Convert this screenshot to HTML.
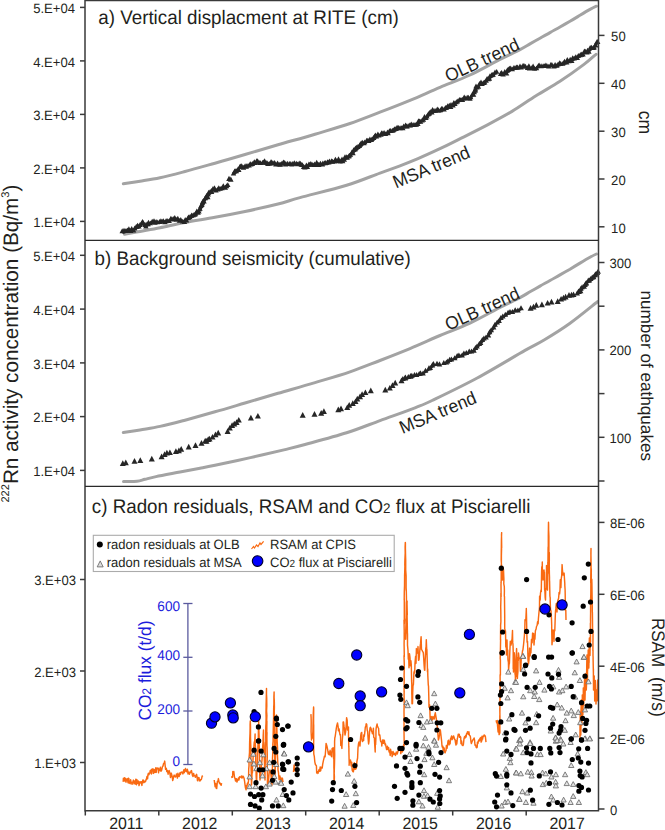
<!DOCTYPE html>
<html><head><meta charset="utf-8"><style>
html,body{margin:0;padding:0;background:#fff;width:665px;height:830px;overflow:hidden;}
svg text{font-family:"Liberation Sans", sans-serif;text-rendering:geometricPrecision;}
</style></head><body>
<svg width="665" height="830" viewBox="0 0 665 830" style="position:absolute;left:0;top:0">
<rect width="665" height="830" fill="#ffffff"/>
<path d="M123.3,183.8 C126.1,183.4 133.9,182.2 140.0,181.2 C146.1,180.2 152.5,179.3 160.0,177.7 C167.5,176.1 175.8,173.9 185.0,171.5 C194.2,169.1 205.0,166.0 215.0,163.2 C225.0,160.4 234.5,157.6 245.0,154.5 C255.5,151.4 266.3,148.2 278.0,144.8 C289.7,141.4 303.0,137.8 315.0,134.2 C327.0,130.6 339.2,127.2 350.0,123.5 C360.8,119.8 370.0,116.0 380.0,112.2 C390.0,108.4 400.0,104.5 410.0,100.4 C420.0,96.3 430.0,91.6 440.0,87.4 C450.0,83.2 460.0,79.7 470.0,75.0 C480.0,70.3 491.7,63.6 500.0,59.4 C508.3,55.2 515.0,52.2 520.0,49.6 C525.0,47.0 526.7,45.8 530.0,43.9 C533.3,42.0 536.7,40.1 540.0,38.2 C543.3,36.3 546.7,34.5 550.0,32.6 C553.3,30.7 556.7,28.9 560.0,27.0 C563.3,25.1 566.7,23.2 570.0,21.3 C573.3,19.4 576.7,17.3 580.0,15.3 C583.3,13.3 587.3,10.9 590.0,9.4 C592.7,7.9 595.3,6.7 596.4,6.2" fill="none" stroke="#a3a3a3" stroke-width="3" stroke-linecap="round"/>
<path d="M123.3,432.6 C126.1,432.2 133.9,431.0 140.0,430.0 C146.1,428.9 152.5,428.1 160.0,426.4 C167.5,424.8 175.8,422.6 185.0,420.2 C194.2,417.7 205.0,414.7 215.0,411.8 C225.0,409.0 234.5,406.1 245.0,403.0 C255.5,400.0 266.3,396.7 278.0,393.3 C289.7,389.9 303.0,386.2 315.0,382.6 C327.0,379.0 339.2,375.5 350.0,371.8 C360.8,368.1 370.0,364.3 380.0,360.5 C390.0,356.6 400.0,352.7 410.0,348.6 C420.0,344.4 430.0,339.8 440.0,335.5 C450.0,331.3 460.0,327.8 470.0,323.1 C480.0,318.4 491.7,311.7 500.0,307.4 C508.3,303.2 515.0,300.2 520.0,297.6 C525.0,295.0 526.7,293.7 530.0,291.8 C533.3,289.9 536.7,288.0 540.0,286.1 C543.3,284.2 546.7,282.4 550.0,280.5 C553.3,278.6 556.7,276.8 560.0,274.9 C563.3,273.0 566.7,271.1 570.0,269.2 C573.3,267.2 576.7,265.1 580.0,263.1 C583.3,261.1 587.3,258.7 590.0,257.2 C592.7,255.7 595.3,254.5 596.4,254.0" fill="none" stroke="#a3a3a3" stroke-width="3" stroke-linecap="round"/>
<path d="M124.5,234.2 C127.1,233.7 134.1,232.5 140.0,231.4 C145.9,230.3 152.5,229.2 160.0,227.7 C167.5,226.2 175.8,224.2 185.0,222.5 C194.2,220.8 205.0,219.1 215.0,217.3 C225.0,215.5 234.5,213.7 245.0,211.5 C255.5,209.3 268.8,206.3 278.0,204.0 C287.2,201.7 288.6,200.7 300.0,197.6 C311.4,194.5 333.3,189.4 346.6,185.3 C359.9,181.2 371.1,176.3 380.0,173.1 C388.9,169.8 393.7,168.2 400.0,165.8 C406.3,163.4 411.3,161.4 418.0,158.6 C424.7,155.8 432.3,152.3 440.0,148.7 C447.7,145.1 456.0,140.8 464.0,136.8 C472.0,132.8 480.0,128.8 488.0,124.6 C496.0,120.4 504.0,116.2 512.0,111.4 C520.0,106.6 528.0,100.7 536.0,95.7 C544.0,90.7 552.0,86.5 560.0,81.3 C568.0,76.1 578.0,68.9 584.0,64.4 C590.0,59.9 594.0,56.0 596.0,54.3" fill="none" stroke="#a3a3a3" stroke-width="3" stroke-linecap="round"/>
<path d="M123.5,481.5 C125.8,481.5 133.4,481.7 137.0,481.3 C140.6,480.9 141.8,480.1 145.0,479.3 C148.2,478.5 150.2,477.8 156.0,476.6 C161.8,475.4 172.7,473.4 180.0,472.0 C187.3,470.6 194.2,469.4 200.0,468.3 C205.8,467.2 206.6,467.1 215.0,465.3 C223.4,463.5 238.7,460.2 250.4,457.6 C262.1,455.0 275.9,451.8 285.0,449.6 C294.1,447.4 294.7,447.3 305.0,444.5 C315.3,441.7 334.1,436.8 346.6,432.8 C359.1,428.8 368.6,424.8 380.0,420.6 C391.4,416.4 406.3,411.2 415.0,407.8 C423.7,404.4 421.7,405.5 432.1,400.5 C442.5,395.5 461.7,386.4 477.2,378.0 C492.7,369.6 513.9,356.7 525.0,350.4 C536.1,344.1 536.6,344.5 544.1,340.0 C551.6,335.5 560.8,329.9 569.7,323.5 C578.6,317.1 592.9,305.3 597.5,301.7" fill="none" stroke="#a3a3a3" stroke-width="3" stroke-linecap="round"/>
<path d="M122.4,232.9 L122.9,232.8 L123.4,232.6 L123.9,232.5 L124.4,232.4 L124.9,232.2 L125.5,232.1 L126.0,231.9 L126.5,231.8 L127.0,231.7 L127.5,231.5 L128.0,231.4 L128.5,231.3 L129.0,231.2 L129.5,231.0 L130.0,230.9 L130.5,230.8 L131.0,230.7 L131.5,230.6 L132.0,230.5 L132.5,230.3 L133.0,230.2 L133.5,230.1 L133.9,229.8 L134.4,229.6 L134.8,229.3 L135.3,229.0 L135.8,228.8 L136.2,228.5 L136.7,228.2 L137.1,227.9 L137.6,227.7 L138.0,227.4 L138.4,227.1 L138.8,226.7 L139.2,226.4 L139.6,226.1 L140.0,225.7 L140.5,225.4 L140.9,225.0 L141.3,224.7 L141.7,224.4 L142.1,224.0 L142.5,223.7 L142.9,224.1 L143.3,224.4 L143.7,224.8 L144.1,225.1 L144.5,225.5 L144.9,225.8 L145.3,226.2 L145.7,226.5 L146.1,226.9 L146.4,226.5 L146.7,226.1 L147.0,225.6 L147.3,225.2 L147.6,224.8 L147.9,224.4 L148.2,223.9 L148.5,223.5 L148.8,223.1 L149.3,223.1 L149.9,223.0 L150.4,223.0 L150.9,223.0 L151.4,223.0 L151.9,222.9 L152.5,222.9 L153.0,222.9 L153.5,222.9 L154.1,222.8 L154.6,222.8 L155.1,222.8 L155.6,222.8 L156.2,222.7 L156.7,222.7 L157.3,222.6 L157.8,222.6 L158.3,222.6 L158.9,222.5 L159.4,222.5 L160.0,222.4 L160.5,222.4 L161.0,222.3 L161.5,222.2 L162.0,222.2 L162.5,222.1 L163.0,222.0 L163.5,221.9 L164.0,221.8 L164.5,221.7 L165.0,221.7 L165.5,221.6 L166.0,221.5 L166.5,221.3 L167.0,221.1 L167.5,221.0 L168.0,220.8 L168.6,220.6 L169.1,220.4 L169.6,220.3 L170.1,220.1 L170.6,219.9 L171.1,219.9 L171.6,219.9 L172.1,219.9 L172.6,219.9 L173.1,219.9 L173.6,219.8 L174.2,219.8 L174.7,219.8 L175.2,219.8 L175.7,219.8 L176.2,219.8 L176.7,219.8 L177.2,219.9 L177.7,220.0 L178.2,220.2 L178.7,220.3 L179.2,220.4 L179.7,220.5 L180.2,220.6 L180.7,220.8 L181.2,220.9 L181.7,221.0 L182.2,221.1 L182.7,221.2 L183.2,221.4 L183.7,221.5 L184.2,221.6 L184.7,221.3 L185.1,221.0 L185.6,220.8 L186.0,220.5 L186.5,220.2 L187.0,219.9 L187.4,219.7 L187.9,219.4 L188.4,219.1 L188.8,218.8 L189.3,218.6 L189.7,218.3 L190.2,218.0 L190.6,217.7 L191.0,217.4 L191.4,217.1 L191.9,216.8 L192.3,216.5 L192.7,216.2 L193.1,215.9 L193.5,215.6 L193.9,215.3 L194.4,215.1 L194.8,214.8 L195.2,214.5 L195.6,214.2 L196.0,213.9 L196.4,213.6 L196.9,213.3 L197.3,213.0 L197.7,212.7 L198.0,212.3 L198.3,211.9 L198.6,211.5 L198.9,211.1 L199.2,210.7 L199.5,210.3 L199.8,209.9 L200.1,209.5 L200.4,209.1 L200.7,208.7 L201.0,208.3 L201.3,207.9 L201.6,207.5 L201.9,207.1 L202.2,206.7 L202.4,206.2 L202.5,205.7 L202.7,205.2 L202.9,204.7 L203.0,204.2 L203.2,203.7 L203.4,203.2 L203.5,202.7 L203.7,202.2 L204.0,201.8 L204.3,201.3 L204.5,200.9 L204.8,200.5 L205.1,200.1 L205.4,199.7 L205.7,199.2 L205.9,198.8 L206.2,198.4 L206.5,197.9 L206.8,197.5 L207.1,197.1 L207.4,196.7 L207.6,196.2 L207.9,195.8 L208.2,195.4 L208.6,195.0 L208.9,194.7 L209.3,194.3 L209.7,193.9 L210.0,193.6 L210.4,193.2 L210.8,192.8 L211.2,192.4 L211.5,192.1 L211.9,191.7 L212.3,191.3 L212.6,191.0 L213.0,190.6 L213.5,190.5 L214.0,190.4 L214.5,190.3 L215.0,190.2 L215.5,190.1 L216.0,189.9 L216.5,189.8 L217.0,189.7 L217.5,189.6 L218.0,189.5 L218.5,189.4 L219.0,189.3 L219.5,189.1 L220.0,188.9 L220.5,188.7 L221.0,188.6 L221.5,188.4 L222.0,188.2 L222.5,188.0 L223.0,187.8 L223.5,187.7 L224.0,187.5 L224.5,187.3 L225.0,187.1 L225.4,186.8 L225.8,186.4 L226.2,186.1 L226.7,185.8 L227.1,185.4 L227.5,185.1" fill="none" stroke="#262626" stroke-width="2.2" stroke-linejoin="round"/>
<polygon points="122.2,228.3 119.5,233.2 124.9,233.2" fill="#262626"/>
<polygon points="124.0,227.7 121.3,232.6 126.7,232.6" fill="#262626"/>
<polygon points="125.2,228.2 122.5,233.0 127.9,233.0" fill="#262626"/>
<polygon points="126.2,228.2 123.5,233.0 128.9,233.0" fill="#262626"/>
<polygon points="127.5,227.6 124.8,232.5 130.2,232.5" fill="#262626"/>
<polygon points="128.9,226.3 126.2,231.2 131.6,231.2" fill="#262626"/>
<polygon points="130.7,228.1 128.0,232.9 133.4,232.9" fill="#262626"/>
<polygon points="131.7,226.0 129.0,230.9 134.4,230.9" fill="#262626"/>
<polygon points="133.6,227.7 130.9,232.6 136.3,232.6" fill="#262626"/>
<polygon points="134.7,225.5 132.0,230.4 137.4,230.4" fill="#262626"/>
<polygon points="136.2,223.9 133.5,228.7 138.9,228.7" fill="#262626"/>
<polygon points="137.2,223.9 134.5,228.7 139.9,228.7" fill="#262626"/>
<polygon points="137.6,222.7 134.9,227.6 140.3,227.6" fill="#262626"/>
<polygon points="138.9,223.7 136.2,228.6 141.6,228.6" fill="#262626"/>
<polygon points="139.9,222.2 137.2,227.0 142.6,227.0" fill="#262626"/>
<polygon points="141.5,220.7 138.8,225.5 144.2,225.5" fill="#262626"/>
<polygon points="142.5,218.9 139.8,223.7 145.2,223.7" fill="#262626"/>
<polygon points="143.3,220.3 140.6,225.2 146.0,225.2" fill="#262626"/>
<polygon points="145.1,222.0 142.4,226.9 147.8,226.9" fill="#262626"/>
<polygon points="145.9,223.5 143.2,228.4 148.6,228.4" fill="#262626"/>
<polygon points="147.0,221.5 144.3,226.3 149.7,226.3" fill="#262626"/>
<polygon points="148.2,221.3 145.5,226.2 150.9,226.2" fill="#262626"/>
<polygon points="148.5,219.7 145.8,224.6 151.2,224.6" fill="#262626"/>
<polygon points="150.4,220.5 147.7,225.3 153.1,225.3" fill="#262626"/>
<polygon points="152.2,218.7 149.5,223.6 154.9,223.6" fill="#262626"/>
<polygon points="154.0,218.2 151.3,223.1 156.7,223.1" fill="#262626"/>
<polygon points="155.0,219.9 152.3,224.8 157.7,224.8" fill="#262626"/>
<polygon points="156.1,219.1 153.4,223.9 158.8,223.9" fill="#262626"/>
<polygon points="157.3,219.5 154.6,224.3 160.0,224.3" fill="#262626"/>
<polygon points="159.4,219.1 156.7,224.0 162.1,224.0" fill="#262626"/>
<polygon points="160.9,218.3 158.2,223.1 163.6,223.1" fill="#262626"/>
<polygon points="162.1,218.8 159.4,223.7 164.8,223.7" fill="#262626"/>
<polygon points="163.3,218.2 160.6,223.1 166.0,223.1" fill="#262626"/>
<polygon points="165.0,219.4 162.3,224.2 167.7,224.2" fill="#262626"/>
<polygon points="166.0,218.3 163.3,223.2 168.7,223.2" fill="#262626"/>
<polygon points="167.1,217.9 164.4,222.8 169.8,222.8" fill="#262626"/>
<polygon points="169.2,218.2 166.5,223.1 171.9,223.1" fill="#262626"/>
<polygon points="170.9,215.7 168.2,220.5 173.6,220.5" fill="#262626"/>
<polygon points="172.0,216.7 169.3,221.6 174.7,221.6" fill="#262626"/>
<polygon points="173.2,216.1 170.5,221.0 175.9,221.0" fill="#262626"/>
<polygon points="174.8,215.1 172.1,220.0 177.5,220.0" fill="#262626"/>
<polygon points="176.3,216.9 173.6,221.8 179.0,221.8" fill="#262626"/>
<polygon points="177.8,215.8 175.1,220.7 180.5,220.7" fill="#262626"/>
<polygon points="179.6,217.9 176.9,222.8 182.3,222.8" fill="#262626"/>
<polygon points="180.8,217.1 178.1,222.0 183.5,222.0" fill="#262626"/>
<polygon points="182.7,218.7 180.0,223.6 185.4,223.6" fill="#262626"/>
<polygon points="184.5,219.0 181.8,223.9 187.2,223.9" fill="#262626"/>
<polygon points="185.2,217.0 182.5,221.9 187.9,221.9" fill="#262626"/>
<polygon points="186.5,217.6 183.8,222.5 189.2,222.5" fill="#262626"/>
<polygon points="188.3,214.8 185.6,219.7 191.0,219.7" fill="#262626"/>
<polygon points="188.7,214.4 186.0,219.2 191.4,219.2" fill="#262626"/>
<polygon points="189.9,214.3 187.2,219.2 192.6,219.2" fill="#262626"/>
<polygon points="191.4,213.0 188.7,217.8 194.1,217.8" fill="#262626"/>
<polygon points="191.8,212.6 189.1,217.5 194.5,217.5" fill="#262626"/>
<polygon points="193.3,212.3 190.6,217.2 196.0,217.2" fill="#262626"/>
<polygon points="194.9,211.9 192.2,216.8 197.6,216.8" fill="#262626"/>
<polygon points="195.6,210.9 192.9,215.8 198.3,215.8" fill="#262626"/>
<polygon points="196.8,208.6 194.1,213.5 199.5,213.5" fill="#262626"/>
<polygon points="198.1,209.9 195.4,214.7 200.8,214.7" fill="#262626"/>
<polygon points="199.0,208.7 196.3,213.6 201.7,213.6" fill="#262626"/>
<polygon points="199.4,206.4 196.7,211.3 202.1,211.3" fill="#262626"/>
<polygon points="200.0,205.9 197.3,210.7 202.7,210.7" fill="#262626"/>
<polygon points="200.9,203.1 198.2,207.9 203.6,207.9" fill="#262626"/>
<polygon points="201.9,202.1 199.2,207.0 204.6,207.0" fill="#262626"/>
<polygon points="202.5,200.3 199.8,205.2 205.2,205.2" fill="#262626"/>
<polygon points="202.7,199.1 200.0,204.0 205.4,204.0" fill="#262626"/>
<polygon points="203.3,198.2 200.6,203.1 206.0,203.1" fill="#262626"/>
<polygon points="204.0,198.5 201.3,203.4 206.7,203.4" fill="#262626"/>
<polygon points="205.3,195.3 202.6,200.2 208.0,200.2" fill="#262626"/>
<polygon points="205.7,194.8 203.0,199.6 208.4,199.6" fill="#262626"/>
<polygon points="206.6,193.0 203.9,197.9 209.3,197.9" fill="#262626"/>
<polygon points="207.8,194.3 205.1,199.2 210.5,199.2" fill="#262626"/>
<polygon points="208.2,191.7 205.5,196.6 210.9,196.6" fill="#262626"/>
<polygon points="208.7,189.7 206.0,194.6 211.4,194.6" fill="#262626"/>
<polygon points="210.0,189.2 207.3,194.1 212.7,194.1" fill="#262626"/>
<polygon points="211.4,188.0 208.7,192.8 214.1,192.8" fill="#262626"/>
<polygon points="211.6,189.2 208.9,194.1 214.3,194.1" fill="#262626"/>
<polygon points="213.0,186.0 210.3,190.9 215.7,190.9" fill="#262626"/>
<polygon points="214.5,185.3 211.8,190.2 217.2,190.2" fill="#262626"/>
<polygon points="216.0,187.7 213.3,192.5 218.7,192.5" fill="#262626"/>
<polygon points="217.9,186.6 215.2,191.4 220.6,191.4" fill="#262626"/>
<polygon points="218.8,185.3 216.1,190.2 221.5,190.2" fill="#262626"/>
<polygon points="220.2,185.9 217.5,190.8 222.9,190.8" fill="#262626"/>
<polygon points="222.0,185.4 219.3,190.2 224.7,190.2" fill="#262626"/>
<polygon points="223.3,183.3 220.6,188.1 226.0,188.1" fill="#262626"/>
<polygon points="225.3,184.8 222.6,189.7 228.0,189.7" fill="#262626"/>
<polygon points="226.6,183.3 223.9,188.2 229.3,188.2" fill="#262626"/>
<polygon points="227.8,182.2 225.1,187.0 230.5,187.0" fill="#262626"/>
<path d="M233.8,174.1 L234.3,173.8 L234.8,173.5 L235.1,173.1 L235.5,172.7 L235.8,172.3 L236.2,171.9 L236.5,171.5 L236.9,171.1 L237.2,170.6 L237.6,170.2 L237.9,169.8 L238.3,169.4 L238.6,169.0 L239.0,168.6 L239.3,168.2 L239.8,168.1 L240.3,168.0 L240.9,167.9 L241.4,167.7 L241.9,167.6 L242.4,167.5 L243.0,167.4 L243.5,167.3 L244.0,167.2 L244.5,167.0 L245.1,166.9 L245.6,166.8 L246.1,166.7 L246.6,166.5 L247.0,166.3 L247.5,166.1 L248.0,165.8 L248.5,165.6 L248.9,165.4 L249.4,165.2 L249.9,165.0 L250.4,164.8 L250.8,164.5 L251.3,164.3 L251.8,164.1 L252.3,163.9 L252.7,163.7 L253.2,163.5 L253.7,163.2 L254.2,163.0 L254.6,162.8 L255.1,162.6 L255.6,162.6 L256.1,162.7 L256.6,162.7 L257.2,162.7 L257.7,162.8 L258.2,162.8 L258.7,162.8 L259.2,162.9 L259.7,162.9 L260.2,162.9 L260.8,162.9 L261.3,163.0 L261.8,163.0 L262.3,163.0 L262.8,163.1 L263.3,163.1 L263.8,163.1 L264.3,163.2 L264.9,163.2 L265.4,163.2 L265.9,163.3 L266.4,163.3 L266.9,163.3 L267.4,163.4 L267.9,163.4 L268.5,163.5 L269.0,163.5 L269.5,163.5 L270.0,163.6 L270.5,163.6 L271.0,163.7 L271.5,163.7 L272.0,163.7 L272.6,163.8 L273.1,163.8 L273.6,163.9 L274.1,163.9 L274.6,164.0 L275.1,164.0 L275.6,164.0 L276.2,164.1 L276.7,164.1 L277.2,164.2 L277.7,164.2 L278.2,164.2 L278.7,164.2 L279.2,164.2 L279.8,164.3 L280.3,164.3 L280.8,164.3 L281.3,164.3 L281.8,164.3 L282.3,164.3 L282.8,164.3 L283.4,164.3 L283.9,164.4 L284.4,164.4 L284.9,164.4 L285.4,164.4 L285.9,164.4 L286.4,164.4 L286.9,164.4 L287.5,164.5 L288.0,164.5 L288.5,164.5 L289.0,164.5 L289.5,164.5 L290.0,164.5 L290.5,164.5 L291.0,164.5 L291.5,164.5 L292.1,164.4 L292.6,164.4 L293.1,164.4 L293.6,164.4 L294.1,164.4 L294.6,164.4 L295.1,164.4 L295.6,164.4 L296.1,164.4 L296.6,164.4 L297.1,164.4 L297.7,164.3 L298.2,164.3 L298.7,164.3 L299.2,164.3 L299.7,164.3 L300.2,164.3 L300.6,164.6 L301.1,164.9 L301.6,165.2 L302.0,165.5 L302.4,165.7 L302.9,166.0 L303.3,166.3 L303.8,166.6 L304.2,166.9 L304.7,167.2 L305.2,167.0 L305.7,166.9 L306.2,166.8 L306.7,166.6 L307.2,166.4 L307.7,166.3 L308.2,166.2 L308.7,166.0 L309.2,165.8 L309.8,165.7 L310.3,165.5 L310.8,165.4 L311.3,165.2 L311.8,165.1 L312.3,164.9 L312.8,164.8 L313.3,164.7 L313.8,164.5 L314.3,164.5 L314.8,164.5 L315.3,164.5 L315.8,164.5 L316.3,164.4 L316.8,164.4 L317.3,164.4 L317.8,164.4 L318.3,164.4 L318.8,164.4 L319.3,164.4 L319.8,164.4 L320.3,164.4 L320.8,164.3 L321.3,164.3 L321.8,164.3 L322.3,164.3 L322.8,164.3 L323.3,164.3 L323.8,164.3 L324.3,164.3 L324.8,164.3 L325.3,164.2 L325.8,164.2 L326.3,164.2 L326.8,164.2 L327.3,164.2 L327.8,163.9 L328.2,163.7 L328.7,163.4 L329.2,163.2 L329.6,162.9 L330.1,162.7 L330.6,162.4 L331.0,162.1 L331.5,161.9 L332.0,161.6 L332.4,161.4 L332.9,161.1 L333.4,161.1 L333.9,161.1 L334.4,161.1 L334.9,161.1 L335.4,161.0 L336.0,161.0 L336.5,161.0 L337.0,161.0 L337.5,161.0 L338.0,161.0 L338.5,161.0 L339.0,161.0 L339.5,161.0 L340.0,161.0 L340.6,161.0 L341.1,160.9 L341.6,160.9 L342.1,160.9 L342.6,160.9 L343.1,160.9 L343.5,160.6 L343.9,160.3 L344.3,159.9 L344.7,159.6 L345.1,159.3 L345.5,159.0 L345.9,158.6 L346.3,158.3 L346.7,158.0 L347.1,157.7 L347.5,157.3 L347.9,157.0 L348.3,156.7 L348.7,156.4 L349.1,156.0 L349.5,155.7 L349.9,155.4 L350.3,155.1 L350.7,154.7 L351.0,154.4 L351.4,154.1 L351.8,153.7 L352.2,153.4 L352.6,153.1 L352.9,152.8 L353.3,152.4 L353.7,152.1 L354.1,151.8 L354.5,151.4 L354.9,151.1 L355.2,150.8 L355.6,150.4 L356.0,150.1 L356.4,149.8 L356.8,149.4 L357.1,149.1 L357.5,148.8 L357.9,148.4 L358.3,148.1 L358.6,147.8 L359.0,147.4 L359.4,147.1 L359.8,146.7 L360.2,146.4 L360.5,146.1 L360.9,145.7 L361.3,145.4 L361.7,145.1 L362.2,144.9 L362.6,144.6 L363.0,144.3 L363.5,144.1 L363.9,143.8 L364.3,143.5 L364.8,143.3 L365.2,143.0 L365.6,142.8 L366.1,142.5 L366.5,142.2 L367.0,142.0 L367.4,141.7 L367.8,141.4 L368.3,141.2 L368.7,140.9 L369.1,140.6 L369.6,140.4 L370.0,140.1 L370.5,139.9 L370.9,139.6 L371.4,139.4 L371.9,139.2 L372.3,138.9 L372.8,138.7 L373.3,138.5 L373.7,138.2 L374.2,138.0 L374.6,137.8 L375.1,137.5 L375.6,137.3 L376.0,137.0 L376.5,136.8 L377.0,136.6 L377.4,136.3 L377.9,136.1 L378.4,135.9 L378.8,135.6 L379.3,135.4 L379.8,135.3 L380.3,135.1 L380.7,135.0 L381.2,134.8 L381.7,134.7 L382.2,134.5 L382.7,134.4 L383.1,134.2 L383.6,134.1 L384.1,134.0 L384.6,133.8 L385.1,133.7 L385.6,133.5 L386.0,133.4 L386.5,133.2 L387.0,133.1 L387.5,132.9 L388.0,132.8 L388.5,132.6 L389.0,132.5 L389.5,132.3 L390.0,132.2 L390.5,132.0 L391.0,131.8 L391.5,131.7 L392.0,131.5 L392.5,131.4 L393.0,131.2 L393.5,131.1 L394.0,130.9 L394.5,130.8 L395.0,130.6 L395.5,130.4 L395.9,130.3 L396.4,130.1 L396.9,129.9 L397.4,129.8 L397.8,129.6 L398.3,129.4 L398.8,129.3 L399.2,129.1 L399.7,128.9 L400.2,128.8 L400.7,128.6 L401.1,128.4 L401.6,128.3 L402.1,128.1 L402.6,127.9 L403.0,127.8 L403.5,127.6 L404.0,127.5 L404.4,127.3 L404.9,127.1 L405.4,127.0 L405.9,126.8 L406.3,126.6 L406.8,126.5 L407.3,126.3 L407.7,126.1 L408.2,126.0 L408.7,125.8 L409.2,125.6 L409.6,125.5 L410.1,125.3 L410.6,125.2 L411.1,125.1 L411.6,125.1 L412.1,125.0 L412.6,124.9 L413.1,124.8 L413.6,124.7 L414.2,124.7 L414.7,124.6 L415.2,124.5 L415.7,124.4 L416.2,124.3 L416.7,124.3 L417.2,124.2 L417.7,124.1 L418.1,123.8 L418.5,123.5 L418.9,123.2 L419.3,122.9 L419.7,122.6 L420.1,122.3 L420.5,122.0 L420.9,121.7 L421.3,121.4 L421.7,121.1 L422.1,120.8 L422.5,120.5 L422.9,120.2 L423.3,119.9 L423.7,119.6 L424.1,119.3 L424.5,119.0 L424.9,118.7 L425.3,118.4 L425.7,118.1 L426.1,117.8 L426.5,117.5 L426.9,117.2 L427.3,116.9 L427.7,116.6 L428.1,116.3 L428.4,115.9 L428.8,115.5 L429.1,115.1 L429.5,114.7 L429.8,114.3 L430.2,113.9 L430.5,113.4 L430.9,113.0 L431.2,112.6 L431.6,112.2 L431.9,111.8 L432.3,111.4 L432.6,111.0 L433.1,111.0 L433.6,111.1 L434.1,111.1 L434.6,111.2 L435.1,111.2 L435.6,111.2 L436.1,111.3 L436.7,111.3 L437.2,111.4 L437.7,111.4 L438.2,111.4 L438.7,111.5 L439.2,111.5 L439.7,111.6 L440.2,111.6 L440.7,111.4 L441.1,111.1 L441.6,110.9 L442.1,110.7 L442.5,110.5 L443.0,110.2 L443.5,110.0 L443.9,109.8 L444.4,109.6 L444.9,109.3 L445.4,109.1 L445.8,108.9 L446.3,108.7 L446.8,108.5 L447.2,108.2 L447.7,108.0 L448.1,107.7 L448.6,107.5 L449.0,107.2 L449.5,106.9 L449.9,106.6 L450.3,106.4 L450.8,106.1 L451.2,105.8 L451.7,105.6 L452.1,105.3 L452.6,105.0 L453.0,104.8 L453.4,104.5 L453.9,104.2 L454.3,103.9 L454.8,103.7 L455.2,103.4 L455.7,103.2 L456.1,102.9 L456.6,102.7 L457.1,102.4 L457.5,102.2 L458.0,102.0 L458.5,101.7 L458.9,101.5 L459.4,101.3 L459.9,101.0 L460.4,100.8 L460.8,100.5 L461.3,100.3 L461.8,100.1 L462.2,99.8 L462.7,99.6 L463.2,99.5 L463.7,99.5 L464.2,99.4 L464.7,99.3 L465.2,99.3 L465.7,99.2 L466.2,99.1 L466.7,99.1 L467.2,99.0 L467.7,98.9 L468.2,98.9 L468.7,98.8 L469.2,98.7 L469.7,98.7 L470.2,98.6 L470.5,98.2 L470.9,97.8 L471.2,97.4 L471.5,97.0 L471.9,96.5 L472.2,96.1 L472.5,95.7 L472.9,95.3 L473.2,94.9 L473.4,94.4 L473.6,94.0 L473.8,93.5 L474.1,93.0 L474.3,92.6 L474.5,92.1 L474.7,91.6 L474.9,91.2 L475.1,90.7 L475.3,90.3 L475.6,89.8 L475.8,89.3 L476.0,88.9 L476.2,88.4 L476.6,88.0 L477.0,87.7 L477.4,87.3 L477.8,87.0 L478.2,86.6 L478.6,86.2 L479.0,85.9 L479.4,85.5 L479.8,85.2 L480.2,84.8 L480.6,84.5 L481.0,84.1 L481.4,83.8 L481.9,83.6 L482.3,83.3 L482.8,83.1 L483.2,82.8 L483.7,82.6 L484.1,82.3 L484.6,82.1 L485.0,81.8 L485.4,81.6 L485.9,81.3 L486.3,81.1 L486.8,80.8 L487.2,80.6 L487.7,80.3 L488.1,80.1 L488.5,79.7 L488.9,79.4 L489.2,79.0 L489.6,78.6 L490.0,78.3 L490.4,77.9 L490.7,77.5 L491.1,77.2 L491.5,76.8 L491.9,76.5 L492.2,76.1 L492.6,75.7 L493.0,75.4 L493.4,75.0 L493.7,74.6 L494.1,74.3 L494.5,73.9 L495.0,73.7 L495.5,73.5 L496.0,73.3 L496.5,73.1" fill="none" stroke="#262626" stroke-width="2.2" stroke-linejoin="round"/>
<polygon points="233.5,170.5 230.8,175.4 236.2,175.4" fill="#262626"/>
<polygon points="234.7,168.6 232.0,173.4 237.4,173.4" fill="#262626"/>
<polygon points="235.2,168.2 232.5,173.1 237.9,173.1" fill="#262626"/>
<polygon points="236.4,168.3 233.7,173.2 239.1,173.2" fill="#262626"/>
<polygon points="238.0,166.6 235.3,171.4 240.7,171.4" fill="#262626"/>
<polygon points="238.8,167.0 236.1,171.9 241.5,171.9" fill="#262626"/>
<polygon points="239.8,164.2 237.1,169.1 242.5,169.1" fill="#262626"/>
<polygon points="240.4,163.5 237.7,168.4 243.1,168.4" fill="#262626"/>
<polygon points="241.7,163.2 239.0,168.0 244.4,168.0" fill="#262626"/>
<polygon points="243.5,164.8 240.8,169.7 246.2,169.7" fill="#262626"/>
<polygon points="245.1,163.3 242.4,168.2 247.8,168.2" fill="#262626"/>
<polygon points="246.3,163.9 243.6,168.8 249.0,168.8" fill="#262626"/>
<polygon points="247.0,163.0 244.3,167.8 249.7,167.8" fill="#262626"/>
<polygon points="249.1,162.7 246.4,167.6 251.8,167.6" fill="#262626"/>
<polygon points="250.2,161.3 247.5,166.1 252.9,166.1" fill="#262626"/>
<polygon points="250.9,161.6 248.2,166.4 253.6,166.4" fill="#262626"/>
<polygon points="252.4,161.0 249.7,165.9 255.1,165.9" fill="#262626"/>
<polygon points="254.3,159.3 251.6,164.1 257.0,164.1" fill="#262626"/>
<polygon points="255.0,160.2 252.3,165.1 257.7,165.1" fill="#262626"/>
<polygon points="256.7,158.2 254.0,163.0 259.4,163.0" fill="#262626"/>
<polygon points="257.6,158.2 254.9,163.0 260.3,163.0" fill="#262626"/>
<polygon points="259.7,160.1 257.0,165.0 262.4,165.0" fill="#262626"/>
<polygon points="260.4,160.3 257.7,165.1 263.1,165.1" fill="#262626"/>
<polygon points="262.6,159.9 259.9,164.7 265.3,164.7" fill="#262626"/>
<polygon points="263.4,159.6 260.7,164.5 266.1,164.5" fill="#262626"/>
<polygon points="264.6,158.2 261.9,163.1 267.3,163.1" fill="#262626"/>
<polygon points="266.9,160.1 264.2,165.0 269.6,165.0" fill="#262626"/>
<polygon points="267.8,161.0 265.1,165.9 270.5,165.9" fill="#262626"/>
<polygon points="269.2,161.0 266.5,165.8 271.9,165.8" fill="#262626"/>
<polygon points="271.0,159.2 268.3,164.1 273.7,164.1" fill="#262626"/>
<polygon points="271.8,159.6 269.1,164.4 274.5,164.4" fill="#262626"/>
<polygon points="273.2,160.5 270.5,165.4 275.9,165.4" fill="#262626"/>
<polygon points="274.6,160.1 271.9,165.0 277.3,165.0" fill="#262626"/>
<polygon points="275.9,161.6 273.2,166.5 278.6,166.5" fill="#262626"/>
<polygon points="277.6,160.5 274.9,165.3 280.3,165.3" fill="#262626"/>
<polygon points="279.2,161.8 276.5,166.6 281.9,166.6" fill="#262626"/>
<polygon points="280.4,161.8 277.7,166.7 283.1,166.7" fill="#262626"/>
<polygon points="281.9,160.8 279.2,165.6 284.6,165.6" fill="#262626"/>
<polygon points="283.4,159.4 280.7,164.2 286.1,164.2" fill="#262626"/>
<polygon points="284.7,159.9 282.0,164.7 287.4,164.7" fill="#262626"/>
<polygon points="285.7,161.6 283.0,166.5 288.4,166.5" fill="#262626"/>
<polygon points="287.3,160.8 284.6,165.6 290.0,165.6" fill="#262626"/>
<polygon points="289.2,161.0 286.5,165.9 291.9,165.9" fill="#262626"/>
<polygon points="290.2,160.9 287.5,165.8 292.9,165.8" fill="#262626"/>
<polygon points="291.9,161.6 289.2,166.5 294.6,166.5" fill="#262626"/>
<polygon points="292.8,161.0 290.1,165.8 295.5,165.8" fill="#262626"/>
<polygon points="294.3,160.2 291.6,165.0 297.0,165.0" fill="#262626"/>
<polygon points="296.3,160.8 293.6,165.6 299.0,165.6" fill="#262626"/>
<polygon points="297.5,161.5 294.8,166.3 300.2,166.3" fill="#262626"/>
<polygon points="299.2,160.6 296.5,165.4 301.9,165.4" fill="#262626"/>
<polygon points="300.3,160.7 297.6,165.6 303.0,165.6" fill="#262626"/>
<polygon points="301.3,162.0 298.6,166.8 304.0,166.8" fill="#262626"/>
<polygon points="302.4,162.2 299.7,167.1 305.1,167.1" fill="#262626"/>
<polygon points="303.6,164.1 300.9,169.0 306.3,169.0" fill="#262626"/>
<polygon points="304.9,164.6 302.2,169.5 307.6,169.5" fill="#262626"/>
<polygon points="306.4,162.5 303.7,167.4 309.1,167.4" fill="#262626"/>
<polygon points="307.4,164.1 304.7,168.9 310.1,168.9" fill="#262626"/>
<polygon points="308.9,161.4 306.2,166.3 311.6,166.3" fill="#262626"/>
<polygon points="309.5,161.9 306.8,166.7 312.2,166.7" fill="#262626"/>
<polygon points="310.8,160.9 308.1,165.8 313.5,165.8" fill="#262626"/>
<polygon points="312.1,161.7 309.4,166.6 314.8,166.6" fill="#262626"/>
<polygon points="314.1,162.0 311.4,166.9 316.8,166.9" fill="#262626"/>
<polygon points="314.8,161.5 312.1,166.3 317.5,166.3" fill="#262626"/>
<polygon points="316.7,159.8 314.0,164.7 319.4,164.7" fill="#262626"/>
<polygon points="318.2,162.1 315.5,167.0 320.9,167.0" fill="#262626"/>
<polygon points="318.9,162.0 316.2,166.9 321.6,166.9" fill="#262626"/>
<polygon points="320.4,160.7 317.7,165.6 323.1,165.6" fill="#262626"/>
<polygon points="322.4,161.6 319.7,166.5 325.1,166.5" fill="#262626"/>
<polygon points="322.9,160.5 320.2,165.3 325.6,165.3" fill="#262626"/>
<polygon points="324.6,160.2 321.9,165.1 327.3,165.1" fill="#262626"/>
<polygon points="325.6,160.1 322.9,165.0 328.3,165.0" fill="#262626"/>
<polygon points="327.5,159.2 324.8,164.1 330.2,164.1" fill="#262626"/>
<polygon points="328.8,159.6 326.1,164.5 331.5,164.5" fill="#262626"/>
<polygon points="329.6,158.6 326.9,163.4 332.3,163.4" fill="#262626"/>
<polygon points="331.6,158.3 328.9,163.2 334.3,163.2" fill="#262626"/>
<polygon points="332.5,158.8 329.8,163.7 335.2,163.7" fill="#262626"/>
<polygon points="334.6,158.8 331.9,163.6 337.3,163.6" fill="#262626"/>
<polygon points="335.4,156.8 332.7,161.6 338.1,161.6" fill="#262626"/>
<polygon points="336.8,158.2 334.1,163.0 339.5,163.0" fill="#262626"/>
<polygon points="338.5,156.3 335.8,161.2 341.2,161.2" fill="#262626"/>
<polygon points="340.1,158.5 337.4,163.4 342.8,163.4" fill="#262626"/>
<polygon points="342.0,156.6 339.3,161.5 344.7,161.5" fill="#262626"/>
<polygon points="342.7,158.5 340.0,163.3 345.4,163.3" fill="#262626"/>
<polygon points="344.3,156.9 341.6,161.8 347.0,161.8" fill="#262626"/>
<polygon points="345.0,154.2 342.3,159.1 347.7,159.1" fill="#262626"/>
<polygon points="346.7,154.3 344.0,159.2 349.4,159.2" fill="#262626"/>
<polygon points="347.2,154.8 344.5,159.7 349.9,159.7" fill="#262626"/>
<polygon points="348.9,153.5 346.2,158.4 351.6,158.4" fill="#262626"/>
<polygon points="349.5,152.8 346.8,157.6 352.2,157.6" fill="#262626"/>
<polygon points="350.5,151.9 347.8,156.8 353.2,156.8" fill="#262626"/>
<polygon points="351.9,149.6 349.2,154.4 354.6,154.4" fill="#262626"/>
<polygon points="353.0,150.3 350.3,155.2 355.7,155.2" fill="#262626"/>
<polygon points="353.7,147.2 351.0,152.1 356.4,152.1" fill="#262626"/>
<polygon points="355.0,146.6 352.3,151.5 357.7,151.5" fill="#262626"/>
<polygon points="355.6,145.5 352.9,150.4 358.3,150.4" fill="#262626"/>
<polygon points="356.6,144.7 353.9,149.6 359.3,149.6" fill="#262626"/>
<polygon points="357.9,144.1 355.2,148.9 360.6,148.9" fill="#262626"/>
<polygon points="359.4,143.1 356.7,147.9 362.1,147.9" fill="#262626"/>
<polygon points="360.2,141.8 357.5,146.7 362.9,146.7" fill="#262626"/>
<polygon points="361.1,140.4 358.4,145.3 363.8,145.3" fill="#262626"/>
<polygon points="362.3,139.7 359.6,144.5 365.0,144.5" fill="#262626"/>
<polygon points="364.0,140.4 361.3,145.3 366.7,145.3" fill="#262626"/>
<polygon points="364.7,139.4 362.0,144.3 367.4,144.3" fill="#262626"/>
<polygon points="366.7,137.7 364.0,142.5 369.4,142.5" fill="#262626"/>
<polygon points="367.8,137.8 365.1,142.7 370.5,142.7" fill="#262626"/>
<polygon points="368.8,138.2 366.1,143.0 371.5,143.0" fill="#262626"/>
<polygon points="369.9,136.5 367.2,141.4 372.6,141.4" fill="#262626"/>
<polygon points="371.4,137.3 368.7,142.1 374.1,142.1" fill="#262626"/>
<polygon points="372.2,136.2 369.5,141.1 374.9,141.1" fill="#262626"/>
<polygon points="373.7,135.1 371.0,140.0 376.4,140.0" fill="#262626"/>
<polygon points="374.6,133.7 371.9,138.6 377.3,138.6" fill="#262626"/>
<polygon points="375.4,132.5 372.7,137.4 378.1,137.4" fill="#262626"/>
<polygon points="376.5,133.6 373.8,138.5 379.2,138.5" fill="#262626"/>
<polygon points="377.9,131.4 375.2,136.3 380.6,136.3" fill="#262626"/>
<polygon points="378.9,132.7 376.2,137.6 381.6,137.6" fill="#262626"/>
<polygon points="381.0,131.9 378.3,136.7 383.7,136.7" fill="#262626"/>
<polygon points="381.6,130.3 378.9,135.2 384.3,135.2" fill="#262626"/>
<polygon points="382.9,130.5 380.2,135.4 385.6,135.4" fill="#262626"/>
<polygon points="384.1,130.1 381.4,135.0 386.8,135.0" fill="#262626"/>
<polygon points="385.5,131.2 382.8,136.0 388.2,136.0" fill="#262626"/>
<polygon points="387.5,129.6 384.8,134.5 390.2,134.5" fill="#262626"/>
<polygon points="388.1,130.4 385.4,135.2 390.8,135.2" fill="#262626"/>
<polygon points="389.5,128.3 386.8,133.1 392.2,133.1" fill="#262626"/>
<polygon points="390.5,127.9 387.8,132.8 393.2,132.8" fill="#262626"/>
<polygon points="392.3,127.8 389.6,132.7 395.0,132.7" fill="#262626"/>
<polygon points="393.4,127.4 390.7,132.3 396.1,132.3" fill="#262626"/>
<polygon points="394.5,126.3 391.8,131.2 397.2,131.2" fill="#262626"/>
<polygon points="395.8,126.3 393.1,131.1 398.5,131.1" fill="#262626"/>
<polygon points="397.1,124.8 394.4,129.6 399.8,129.6" fill="#262626"/>
<polygon points="398.6,124.9 395.9,129.8 401.3,129.8" fill="#262626"/>
<polygon points="400.1,125.3 397.4,130.2 402.8,130.2" fill="#262626"/>
<polygon points="401.5,125.2 398.8,130.1 404.2,130.1" fill="#262626"/>
<polygon points="402.8,125.4 400.1,130.3 405.5,130.3" fill="#262626"/>
<polygon points="403.7,123.4 401.0,128.3 406.4,128.3" fill="#262626"/>
<polygon points="405.6,122.5 402.9,127.3 408.3,127.3" fill="#262626"/>
<polygon points="406.5,123.4 403.8,128.3 409.2,128.3" fill="#262626"/>
<polygon points="407.1,123.5 404.4,128.4 409.8,128.4" fill="#262626"/>
<polygon points="409.2,122.5 406.5,127.3 411.9,127.3" fill="#262626"/>
<polygon points="410.3,122.6 407.6,127.4 413.0,127.4" fill="#262626"/>
<polygon points="411.3,121.5 408.6,126.4 414.0,126.4" fill="#262626"/>
<polygon points="413.1,122.1 410.4,127.0 415.8,127.0" fill="#262626"/>
<polygon points="415.0,121.9 412.3,126.7 417.7,126.7" fill="#262626"/>
<polygon points="416.3,121.8 413.6,126.7 419.0,126.7" fill="#262626"/>
<polygon points="417.9,121.0 415.2,125.9 420.6,125.9" fill="#262626"/>
<polygon points="418.5,118.3 415.8,123.2 421.2,123.2" fill="#262626"/>
<polygon points="419.5,118.4 416.8,123.3 422.2,123.3" fill="#262626"/>
<polygon points="420.6,119.0 417.9,123.8 423.3,123.8" fill="#262626"/>
<polygon points="422.2,117.5 419.5,122.4 424.9,122.4" fill="#262626"/>
<polygon points="423.4,116.8 420.7,121.7 426.1,121.7" fill="#262626"/>
<polygon points="424.5,114.0 421.8,118.9 427.2,118.9" fill="#262626"/>
<polygon points="426.0,115.2 423.3,120.0 428.7,120.0" fill="#262626"/>
<polygon points="426.9,113.7 424.2,118.5 429.6,118.5" fill="#262626"/>
<polygon points="428.3,111.5 425.6,116.3 431.0,116.3" fill="#262626"/>
<polygon points="429.2,110.9 426.5,115.8 431.9,115.8" fill="#262626"/>
<polygon points="429.5,109.9 426.8,114.8 432.2,114.8" fill="#262626"/>
<polygon points="431.0,108.7 428.3,113.5 433.7,113.5" fill="#262626"/>
<polygon points="431.9,109.8 429.2,114.6 434.6,114.6" fill="#262626"/>
<polygon points="432.6,107.1 429.9,111.9 435.3,111.9" fill="#262626"/>
<polygon points="434.1,108.0 431.4,112.9 436.8,112.9" fill="#262626"/>
<polygon points="435.9,108.0 433.2,112.8 438.6,112.8" fill="#262626"/>
<polygon points="437.3,106.6 434.6,111.4 440.0,111.4" fill="#262626"/>
<polygon points="438.3,107.2 435.6,112.0 441.0,112.0" fill="#262626"/>
<polygon points="440.4,107.4 437.7,112.3 443.1,112.3" fill="#262626"/>
<polygon points="441.5,106.0 438.8,110.9 444.2,110.9" fill="#262626"/>
<polygon points="442.3,106.1 439.6,111.0 445.0,111.0" fill="#262626"/>
<polygon points="444.1,106.7 441.4,111.6 446.8,111.6" fill="#262626"/>
<polygon points="445.4,105.0 442.7,109.9 448.1,109.9" fill="#262626"/>
<polygon points="446.5,104.9 443.8,109.7 449.2,109.7" fill="#262626"/>
<polygon points="447.7,103.3 445.0,108.2 450.4,108.2" fill="#262626"/>
<polygon points="449.3,102.8 446.6,107.6 452.0,107.6" fill="#262626"/>
<polygon points="450.7,104.1 448.0,108.9 453.4,108.9" fill="#262626"/>
<polygon points="451.0,102.0 448.3,106.8 453.7,106.8" fill="#262626"/>
<polygon points="453.0,102.6 450.3,107.5 455.7,107.5" fill="#262626"/>
<polygon points="453.9,99.9 451.2,104.8 456.6,104.8" fill="#262626"/>
<polygon points="454.9,101.0 452.2,105.9 457.6,105.9" fill="#262626"/>
<polygon points="456.2,99.4 453.5,104.2 458.9,104.2" fill="#262626"/>
<polygon points="457.3,98.6 454.6,103.4 460.0,103.4" fill="#262626"/>
<polygon points="459.4,96.9 456.7,101.7 462.1,101.7" fill="#262626"/>
<polygon points="460.5,97.3 457.8,102.1 463.2,102.1" fill="#262626"/>
<polygon points="461.8,97.2 459.1,102.0 464.5,102.0" fill="#262626"/>
<polygon points="462.4,97.1 459.7,102.0 465.1,102.0" fill="#262626"/>
<polygon points="464.2,94.5 461.5,99.3 466.9,99.3" fill="#262626"/>
<polygon points="465.2,95.6 462.5,100.4 467.9,100.4" fill="#262626"/>
<polygon points="467.2,94.8 464.5,99.7 469.9,99.7" fill="#262626"/>
<polygon points="468.3,94.7 465.6,99.6 471.0,99.6" fill="#262626"/>
<polygon points="470.0,95.9 467.3,100.8 472.7,100.8" fill="#262626"/>
<polygon points="470.7,94.5 468.0,99.3 473.4,99.3" fill="#262626"/>
<polygon points="472.5,91.5 469.8,96.3 475.2,96.3" fill="#262626"/>
<polygon points="473.6,91.9 470.9,96.7 476.3,96.7" fill="#262626"/>
<polygon points="474.2,89.4 471.5,94.3 476.9,94.3" fill="#262626"/>
<polygon points="474.3,88.4 471.6,93.2 477.0,93.2" fill="#262626"/>
<polygon points="475.5,87.6 472.8,92.5 478.2,92.5" fill="#262626"/>
<polygon points="475.5,85.9 472.8,90.7 478.2,90.7" fill="#262626"/>
<polygon points="476.0,83.5 473.3,88.4 478.7,88.4" fill="#262626"/>
<polygon points="477.0,84.6 474.3,89.5 479.7,89.5" fill="#262626"/>
<polygon points="478.4,83.9 475.7,88.7 481.1,88.7" fill="#262626"/>
<polygon points="479.5,80.9 476.8,85.8 482.2,85.8" fill="#262626"/>
<polygon points="481.0,79.6 478.3,84.5 483.7,84.5" fill="#262626"/>
<polygon points="482.1,81.1 479.4,86.0 484.8,86.0" fill="#262626"/>
<polygon points="483.8,80.0 481.1,84.9 486.5,84.9" fill="#262626"/>
<polygon points="484.7,79.6 482.0,84.5 487.4,84.5" fill="#262626"/>
<polygon points="486.2,78.0 483.5,82.8 488.9,82.8" fill="#262626"/>
<polygon points="487.1,75.9 484.4,80.8 489.8,80.8" fill="#262626"/>
<polygon points="488.3,76.3 485.6,81.2 491.0,81.2" fill="#262626"/>
<polygon points="489.4,75.9 486.7,80.7 492.1,80.7" fill="#262626"/>
<polygon points="490.0,73.2 487.3,78.0 492.7,78.0" fill="#262626"/>
<polygon points="491.7,72.3 489.0,77.2 494.4,77.2" fill="#262626"/>
<polygon points="492.3,71.9 489.6,76.8 495.0,76.8" fill="#262626"/>
<polygon points="493.2,72.0 490.5,76.8 495.9,76.8" fill="#262626"/>
<polygon points="495.0,69.6 492.3,74.5 497.7,74.5" fill="#262626"/>
<polygon points="496.7,68.9 494.0,73.8 499.4,73.8" fill="#262626"/>
<path d="M500.5,75.0 L501.0,74.8 L501.4,74.7 L501.9,74.5 L502.4,74.3 L502.9,74.2 L503.4,74.0 L503.8,73.8 L504.3,73.7 L504.8,73.5 L505.2,73.3 L505.7,73.2 L506.2,73.0 L506.6,72.7 L507.1,72.4 L507.5,72.1 L507.9,71.9 L508.3,71.6 L508.8,71.3 L509.2,71.0 L509.6,70.7 L510.1,70.4 L510.5,70.1 L510.9,69.9 L511.3,69.6 L511.8,69.3 L512.2,69.0 L512.7,69.0 L513.3,68.9 L513.8,68.9 L514.3,68.9 L514.8,68.8 L515.4,68.8 L515.9,68.7 L516.4,68.7 L516.9,68.7 L517.5,68.6 L518.0,68.6 L518.5,68.5 L519.0,68.4 L519.5,68.2 L520.1,68.1 L520.6,68.0 L521.1,67.9 L521.6,67.8 L522.1,67.7 L522.7,67.5 L523.2,67.4 L523.7,67.3 L524.2,67.2 L524.7,67.3 L525.2,67.4 L525.7,67.6 L526.3,67.7 L526.8,67.8 L527.3,67.9 L527.8,68.0 L528.3,68.2 L528.8,68.3 L529.3,68.4 L529.9,68.5 L530.4,68.7 L530.9,68.8 L531.4,68.9 L531.9,68.8 L532.5,68.7 L533.0,68.6 L533.5,68.5 L534.1,68.5 L534.6,68.4 L535.1,68.3 L535.7,68.2 L536.2,68.1 L536.7,67.9 L537.2,67.8 L537.7,67.6 L538.2,67.4 L538.7,67.2 L539.1,67.1 L539.6,66.9 L540.1,66.7 L540.6,66.6 L541.1,66.4 L541.6,66.4 L542.2,66.3 L542.7,66.3 L543.2,66.2 L543.8,66.2 L544.3,66.1 L544.8,66.1 L545.4,66.0 L545.9,66.0 L546.4,66.0 L547.0,66.0 L547.5,66.1 L548.0,66.1 L548.6,66.1 L549.1,66.1 L549.6,66.2 L550.2,66.2 L550.7,66.2 L551.2,66.3 L551.8,66.4 L552.3,66.4 L552.8,66.5 L553.4,66.6 L553.9,66.7 L554.4,66.7 L555.0,66.8 L555.5,66.9 L556.0,66.7 L556.5,66.5 L557.0,66.3 L557.5,66.1 L558.0,65.9 L558.5,65.6 L559.0,65.4 L559.5,65.2 L560.0,65.0 L560.5,64.8 L561.0,64.6 L561.5,64.4 L562.0,64.2 L562.5,64.0 L563.0,63.8 L563.5,63.6 L564.0,63.4 L564.5,63.3 L565.0,63.1 L565.5,62.9 L566.0,62.7 L566.5,62.5 L567.0,62.3 L567.5,62.1 L568.0,61.9 L568.5,61.7 L569.0,61.6 L569.5,61.4 L570.0,61.2 L570.5,61.0 L571.0,60.8 L571.5,60.6 L572.0,60.5 L572.5,60.3 L573.0,60.1 L573.5,59.9 L573.9,59.6 L574.4,59.4 L574.9,59.1 L575.4,58.9 L575.8,58.6 L576.3,58.4 L576.8,58.1 L577.2,57.9 L577.7,57.6 L578.2,57.4 L578.7,57.1 L579.1,56.9 L579.6,56.6 L580.0,56.3 L580.5,56.0 L580.9,55.6 L581.3,55.3 L581.8,55.0 L582.2,54.7 L582.7,54.4 L583.1,54.1 L583.5,53.7 L584.0,53.4 L584.4,53.1 L584.9,52.9 L585.4,52.7 L585.8,52.5 L586.3,52.3 L586.8,52.1 L587.3,51.9 L587.8,51.7 L588.2,51.5 L588.7,51.3 L589.2,51.1 L589.6,50.7 L590.0,50.4 L590.4,50.0 L590.8,49.7 L591.2,49.3 L591.6,49.0 L592.0,48.6 L592.4,48.2 L592.9,47.9 L593.3,47.5 L593.7,47.2 L594.1,46.8 L594.6,46.5 L595.0,46.1 L595.4,45.7 L595.7,45.2 L596.1,44.8 L596.4,44.4 L596.8,44.0 L597.1,43.5 L597.5,43.1" fill="none" stroke="#262626" stroke-width="2.2" stroke-linejoin="round"/>
<polygon points="500.6,71.1 497.9,76.0 503.3,76.0" fill="#262626"/>
<polygon points="501.6,69.9 498.9,74.8 504.3,74.8" fill="#262626"/>
<polygon points="503.1,71.5 500.4,76.4 505.8,76.4" fill="#262626"/>
<polygon points="504.8,69.1 502.1,74.0 507.5,74.0" fill="#262626"/>
<polygon points="506.6,70.8 503.9,75.6 509.3,75.6" fill="#262626"/>
<polygon points="507.3,67.6 504.6,72.4 510.0,72.4" fill="#262626"/>
<polygon points="508.3,66.6 505.6,71.5 511.0,71.5" fill="#262626"/>
<polygon points="509.6,65.8 506.9,70.7 512.3,70.7" fill="#262626"/>
<polygon points="510.7,65.5 508.0,70.4 513.4,70.4" fill="#262626"/>
<polygon points="512.3,66.5 509.6,71.3 515.0,71.3" fill="#262626"/>
<polygon points="513.9,65.0 511.2,69.9 516.6,69.9" fill="#262626"/>
<polygon points="515.0,65.3 512.3,70.1 517.7,70.1" fill="#262626"/>
<polygon points="516.4,64.6 513.7,69.5 519.1,69.5" fill="#262626"/>
<polygon points="517.6,64.4 514.9,69.2 520.3,69.2" fill="#262626"/>
<polygon points="520.0,63.6 517.3,68.4 522.7,68.4" fill="#262626"/>
<polygon points="521.1,64.6 518.4,69.5 523.8,69.5" fill="#262626"/>
<polygon points="523.0,63.1 520.3,68.0 525.7,68.0" fill="#262626"/>
<polygon points="524.0,62.9 521.3,67.7 526.7,67.7" fill="#262626"/>
<polygon points="525.5,63.8 522.8,68.6 528.2,68.6" fill="#262626"/>
<polygon points="527.5,65.2 524.8,70.1 530.2,70.1" fill="#262626"/>
<polygon points="528.9,63.3 526.2,68.1 531.6,68.1" fill="#262626"/>
<polygon points="529.5,65.5 526.8,70.4 532.2,70.4" fill="#262626"/>
<polygon points="531.8,65.2 529.1,70.1 534.5,70.1" fill="#262626"/>
<polygon points="533.1,63.6 530.4,68.5 535.8,68.5" fill="#262626"/>
<polygon points="534.5,65.9 531.8,70.8 537.2,70.8" fill="#262626"/>
<polygon points="536.5,65.5 533.8,70.3 539.2,70.3" fill="#262626"/>
<polygon points="538.3,63.2 535.6,68.1 541.0,68.1" fill="#262626"/>
<polygon points="539.1,62.4 536.4,67.2 541.8,67.2" fill="#262626"/>
<polygon points="541.1,63.3 538.4,68.2 543.8,68.2" fill="#262626"/>
<polygon points="543.1,63.3 540.4,68.1 545.8,68.1" fill="#262626"/>
<polygon points="544.4,63.3 541.7,68.1 547.1,68.1" fill="#262626"/>
<polygon points="545.9,62.5 543.2,67.4 548.6,67.4" fill="#262626"/>
<polygon points="547.0,63.2 544.3,68.1 549.7,68.1" fill="#262626"/>
<polygon points="548.8,63.7 546.1,68.6 551.5,68.6" fill="#262626"/>
<polygon points="550.8,62.0 548.1,66.9 553.5,66.9" fill="#262626"/>
<polygon points="551.9,62.1 549.2,67.0 554.6,67.0" fill="#262626"/>
<polygon points="554.0,63.6 551.3,68.5 556.7,68.5" fill="#262626"/>
<polygon points="555.1,62.1 552.4,66.9 557.8,66.9" fill="#262626"/>
<polygon points="556.9,62.9 554.2,67.8 559.6,67.8" fill="#262626"/>
<polygon points="558.1,61.4 555.4,66.2 560.8,66.2" fill="#262626"/>
<polygon points="559.7,60.2 557.0,65.1 562.4,65.1" fill="#262626"/>
<polygon points="560.8,60.9 558.1,65.7 563.5,65.7" fill="#262626"/>
<polygon points="562.8,60.9 560.1,65.8 565.5,65.8" fill="#262626"/>
<polygon points="564.0,59.9 561.3,64.8 566.7,64.8" fill="#262626"/>
<polygon points="564.6,58.8 561.9,63.6 567.3,63.6" fill="#262626"/>
<polygon points="566.7,59.6 564.0,64.4 569.4,64.4" fill="#262626"/>
<polygon points="567.3,57.1 564.6,62.0 570.0,62.0" fill="#262626"/>
<polygon points="568.9,58.5 566.2,63.3 571.6,63.3" fill="#262626"/>
<polygon points="570.2,56.8 567.5,61.7 572.9,61.7" fill="#262626"/>
<polygon points="571.8,58.2 569.1,63.0 574.5,63.0" fill="#262626"/>
<polygon points="572.7,55.2 570.0,60.0 575.4,60.0" fill="#262626"/>
<polygon points="574.2,55.6 571.5,60.4 576.9,60.4" fill="#262626"/>
<polygon points="575.8,54.2 573.1,59.1 578.5,59.1" fill="#262626"/>
<polygon points="577.3,55.1 574.6,59.9 580.0,59.9" fill="#262626"/>
<polygon points="578.3,52.9 575.6,57.7 581.0,57.7" fill="#262626"/>
<polygon points="580.1,52.5 577.4,57.3 582.8,57.3" fill="#262626"/>
<polygon points="581.1,51.4 578.4,56.2 583.8,56.2" fill="#262626"/>
<polygon points="581.7,52.0 579.0,56.8 584.4,56.8" fill="#262626"/>
<polygon points="583.0,51.6 580.3,56.5 585.7,56.5" fill="#262626"/>
<polygon points="584.4,48.6 581.7,53.5 587.1,53.5" fill="#262626"/>
<polygon points="585.3,48.8 582.6,53.6 588.0,53.6" fill="#262626"/>
<polygon points="587.0,49.7 584.3,54.6 589.7,54.6" fill="#262626"/>
<polygon points="587.6,47.7 584.9,52.5 590.3,52.5" fill="#262626"/>
<polygon points="588.9,48.8 586.2,53.7 591.6,53.7" fill="#262626"/>
<polygon points="590.2,45.0 587.5,49.8 592.9,49.8" fill="#262626"/>
<polygon points="591.6,44.7 588.9,49.5 594.3,49.5" fill="#262626"/>
<polygon points="593.4,45.2 590.7,50.1 596.1,50.1" fill="#262626"/>
<polygon points="594.2,44.7 591.5,49.6 596.9,49.6" fill="#262626"/>
<polygon points="595.4,42.0 592.7,46.9 598.1,46.9" fill="#262626"/>
<polygon points="595.5,42.7 592.8,47.6 598.2,47.6" fill="#262626"/>
<polygon points="596.9,39.2 594.2,44.0 599.6,44.0" fill="#262626"/>
<polygon points="597.7,39.1 595.0,44.0 600.4,44.0" fill="#262626"/>
<polygon points="229.0,175.7 226.2,181.0 231.8,181.0" fill="#262626"/>
<polygon points="230.8,176.5 228.0,181.8 233.6,181.8" fill="#262626"/>
<polygon points="122.8,460.3 119.8,466.0 125.8,466.0" fill="#262626"/>
<polygon points="125.8,459.5 122.8,465.2 128.8,465.2" fill="#262626"/>
<polygon points="134.5,458.0 131.5,463.7 137.5,463.7" fill="#262626"/>
<polygon points="140.3,457.3 137.3,463.0 143.3,463.0" fill="#262626"/>
<polygon points="151.8,455.7 148.8,461.4 154.8,461.4" fill="#262626"/>
<polygon points="161.6,453.5 158.6,459.2 164.6,459.2" fill="#262626"/>
<polygon points="164.6,451.2 161.6,456.9 167.6,456.9" fill="#262626"/>
<polygon points="166.9,449.7 163.9,455.4 169.9,455.4" fill="#262626"/>
<polygon points="169.9,449.4 166.9,455.1 172.9,455.1" fill="#262626"/>
<polygon points="175.9,448.2 172.9,453.9 178.9,453.9" fill="#262626"/>
<polygon points="178.9,447.5 175.9,453.2 181.9,453.2" fill="#262626"/>
<polygon points="181.2,446.0 178.2,451.7 184.2,451.7" fill="#262626"/>
<polygon points="188.7,443.7 185.7,449.4 191.7,449.4" fill="#262626"/>
<polygon points="195.5,442.2 192.5,447.9 198.5,447.9" fill="#262626"/>
<polygon points="201.5,440.0 198.5,445.7 204.5,445.7" fill="#262626"/>
<polygon points="205.2,437.7 202.2,443.4 208.2,443.4" fill="#262626"/>
<polygon points="208.2,436.2 205.2,441.9 211.2,441.9" fill="#262626"/>
<polygon points="206.5,438.0 203.5,443.7 209.5,443.7" fill="#262626"/>
<polygon points="209.5,435.7 206.5,441.4 212.5,441.4" fill="#262626"/>
<polygon points="212.5,433.9 209.5,439.6 215.5,439.6" fill="#262626"/>
<polygon points="215.5,431.5 212.5,437.2 218.5,437.2" fill="#262626"/>
<polygon points="218.2,429.7 215.2,435.4 221.2,435.4" fill="#262626"/>
<polygon points="227.6,428.2 224.6,433.9 230.6,433.9" fill="#262626"/>
<polygon points="229.8,424.9 226.8,430.6 232.8,430.6" fill="#262626"/>
<polygon points="232.1,422.2 229.1,427.9 235.1,427.9" fill="#262626"/>
<polygon points="234.3,420.7 231.3,426.4 237.3,426.4" fill="#262626"/>
<polygon points="236.6,419.2 233.6,424.9 239.6,424.9" fill="#262626"/>
<polygon points="238.8,416.9 235.8,422.6 241.8,422.6" fill="#262626"/>
<polygon points="250.9,414.7 247.9,420.4 253.9,420.4" fill="#262626"/>
<polygon points="257.9,412.9 254.9,418.6 260.9,418.6" fill="#262626"/>
<polygon points="302.7,412.0 299.7,417.7 305.7,417.7" fill="#262626"/>
<polygon points="314.5,411.0 311.5,416.7 317.5,416.7" fill="#262626"/>
<polygon points="321.2,410.1 318.2,415.8 324.2,415.8" fill="#262626"/>
<polygon points="323.9,408.3 320.9,414.0 326.9,414.0" fill="#262626"/>
<polygon points="338.3,406.5 335.3,412.2 341.3,412.2" fill="#262626"/>
<polygon points="341.0,405.6 338.0,411.3 344.0,411.3" fill="#262626"/>
<polygon points="347.3,404.4 344.3,410.1 350.3,410.1" fill="#262626"/>
<polygon points="349.2,402.0 346.2,407.7 352.2,407.7" fill="#262626"/>
<polygon points="352.8,400.2 349.8,405.9 355.8,405.9" fill="#262626"/>
<polygon points="355.5,398.4 352.5,404.1 358.5,404.1" fill="#262626"/>
<polygon points="357.3,395.7 354.3,401.4 360.3,401.4" fill="#262626"/>
<polygon points="360.0,393.5 357.0,399.2 363.0,399.2" fill="#262626"/>
<polygon points="362.1,391.2 359.1,396.9 365.1,396.9" fill="#262626"/>
<polygon points="365.4,389.4 362.4,395.1 368.4,395.1" fill="#262626"/>
<polygon points="370.8,387.6 367.8,393.3 373.8,393.3" fill="#262626"/>
<polygon points="385.3,386.7 382.3,392.4 388.3,392.4" fill="#262626"/>
<polygon points="389.8,384.9 386.8,390.6 392.8,390.6" fill="#262626"/>
<polygon points="392.5,382.2 389.5,387.9 395.5,387.9" fill="#262626"/>
<polygon points="395.2,379.8 392.2,385.5 398.2,385.5" fill="#262626"/>
<polygon points="401.5,377.6 398.5,383.3 404.5,383.3" fill="#262626"/>
<polygon points="405.1,374.9 402.1,380.6 408.1,380.6" fill="#262626"/>
<polygon points="410.5,373.1 407.5,378.8 413.5,378.8" fill="#262626"/>
<path d="M403.0,380.0 L403.5,379.8 L404.0,379.7 L404.5,379.5 L405.0,379.3 L405.4,379.1 L405.9,379.0 L406.4,378.8 L406.9,378.6 L407.4,378.5 L407.9,378.3 L408.4,378.1 L408.9,378.0 L409.3,377.8 L409.8,377.6 L410.3,377.4 L410.8,377.3 L411.3,377.1 L411.8,376.9 L412.3,376.8 L412.8,376.6 L413.3,376.4 L413.8,376.3 L414.2,376.1 L414.7,376.0 L415.2,375.8 L415.7,375.6 L416.2,375.5 L416.7,375.3 L417.2,375.2 L417.7,375.0 L418.2,374.9 L418.7,374.7 L419.2,374.6 L419.7,374.5 L420.1,374.3 L420.6,374.2 L421.1,374.1 L421.6,373.9 L422.1,373.8 L422.6,373.6 L423.1,373.5 L423.5,373.2 L423.9,372.9 L424.3,372.6 L424.8,372.4 L425.2,372.1 L425.6,371.8 L426.0,371.5 L426.4,371.2 L426.8,370.9 L427.3,370.7 L427.7,370.4 L428.1,370.1 L428.5,369.8 L428.9,369.5 L429.3,369.2 L429.7,368.8 L430.0,368.5 L430.4,368.2 L430.8,367.9 L431.2,367.6 L431.6,367.2 L432.0,366.9 L432.4,366.6 L432.7,366.3 L433.1,365.9 L433.5,365.6 L433.9,365.3 L434.4,365.2 L435.0,365.1 L435.5,365.0 L436.1,364.9 L436.6,364.9 L437.1,364.8 L437.7,364.7 L438.2,364.6 L438.8,364.5 L439.3,364.4" fill="none" stroke="#262626" stroke-width="2.2" stroke-linejoin="round"/>
<polygon points="402.9,376.0 400.1,381.0 405.7,381.0" fill="#262626"/>
<polygon points="405.4,374.5 402.6,379.6 408.2,379.6" fill="#262626"/>
<polygon points="408.3,374.1 405.5,379.1 411.1,379.1" fill="#262626"/>
<polygon points="411.8,372.8 409.0,377.8 414.6,377.8" fill="#262626"/>
<polygon points="414.5,372.0 411.7,377.0 417.3,377.0" fill="#262626"/>
<polygon points="416.6,372.1 413.8,377.1 419.4,377.1" fill="#262626"/>
<polygon points="419.2,370.9 416.4,375.9 422.0,375.9" fill="#262626"/>
<polygon points="420.5,370.3 417.7,375.4 423.3,375.4" fill="#262626"/>
<polygon points="423.0,370.4 420.2,375.5 425.8,375.5" fill="#262626"/>
<polygon points="425.5,367.7 422.7,372.7 428.3,372.7" fill="#262626"/>
<polygon points="428.9,365.3 426.1,370.4 431.7,370.4" fill="#262626"/>
<polygon points="430.2,365.1 427.4,370.1 433.0,370.1" fill="#262626"/>
<polygon points="432.4,362.3 429.6,367.4 435.2,367.4" fill="#262626"/>
<polygon points="433.4,360.9 430.6,365.9 436.2,365.9" fill="#262626"/>
<polygon points="437.0,360.7 434.2,365.8 439.8,365.8" fill="#262626"/>
<polygon points="439.5,361.3 436.7,366.4 442.3,366.4" fill="#262626"/>
<path d="M444.0,364.0 L444.5,363.8 L444.9,363.5 L445.4,363.3 L445.9,363.0 L446.3,362.8 L446.8,362.6 L447.3,362.3 L447.7,362.1 L448.2,361.8 L448.6,361.6 L449.1,361.3 L449.6,361.1 L450.0,360.9 L450.5,360.6 L451.0,360.4 L451.4,360.1 L451.9,359.9 L452.4,359.7 L452.8,359.5 L453.3,359.2 L453.7,359.0 L454.2,358.8 L454.6,358.6 L455.1,358.3 L455.5,358.1 L456.0,357.9 L456.5,357.7 L456.9,357.4 L457.4,357.2 L457.8,357.0 L458.3,356.8 L458.7,356.5 L459.2,356.3 L459.7,356.1 L460.2,355.9 L460.6,355.8 L461.1,355.6 L461.6,355.4 L462.1,355.2 L462.6,355.0 L463.0,354.9 L463.5,354.7 L464.0,354.5 L464.5,354.3 L465.0,354.1 L465.4,354.0 L465.9,353.8 L466.4,353.6 L466.9,353.4 L467.4,353.2 L467.8,353.1 L468.3,352.9 L468.8,352.7 L469.3,352.5 L469.8,352.3 L470.2,352.2 L470.7,352.0 L471.2,351.8 L471.7,351.6 L472.2,351.4 L472.6,351.3 L473.1,351.1 L473.6,350.9 L474.0,350.5 L474.3,350.2 L474.7,349.8 L475.0,349.5 L475.4,349.1 L475.8,348.7 L476.1,348.4 L476.5,348.0 L476.8,347.7 L477.2,347.3 L477.6,346.9 L477.9,346.6 L478.3,346.2 L478.6,345.9 L479.0,345.5 L479.3,345.1 L479.7,344.7 L480.0,344.3 L480.4,343.9 L480.7,343.5 L481.0,343.1 L481.4,342.7 L481.7,342.4 L482.0,342.0 L482.4,341.6 L482.7,341.2 L483.0,340.8 L483.4,340.4 L483.7,340.0 L484.1,339.6 L484.4,339.2 L484.8,338.8 L485.1,338.5 L485.5,338.1 L485.8,337.7 L486.2,337.4 L486.6,337.0 L486.9,336.6 L487.3,336.3 L487.6,335.9 L488.0,335.5 L488.4,335.2 L488.7,334.8 L489.1,334.4 L489.4,334.1 L489.8,333.7 L490.1,333.3 L490.4,332.8 L490.7,332.4 L491.0,331.9 L491.3,331.5 L491.6,331.0 L491.9,330.6 L492.2,330.1 L492.5,329.7 L492.8,329.2 L493.1,328.8 L493.4,328.3 L493.7,327.9 L494.0,327.5 L494.3,327.1 L494.5,326.6 L494.8,326.2 L495.1,325.8 L495.4,325.4 L495.7,325.0 L496.0,324.6 L496.2,324.1 L496.5,323.7 L496.8,323.3 L497.1,322.9 L497.5,322.5 L497.8,322.2 L498.2,321.8 L498.5,321.5 L498.9,321.1 L499.3,320.7 L499.6,320.4 L500.0,320.0 L500.3,319.7 L500.7,319.3 L501.1,318.9 L501.4,318.6 L501.8,318.2 L502.1,317.9 L502.5,317.5 L502.9,317.2 L503.4,316.9 L503.9,316.6 L504.3,316.3 L504.8,316.0 L505.2,315.7 L505.6,315.4 L506.1,315.1 L506.5,314.8 L507.0,314.5 L507.4,314.2 L507.9,313.9 L508.4,313.7 L508.9,313.5 L509.3,313.4 L509.8,313.2 L510.3,313.0 L510.8,312.8 L511.3,312.6 L511.7,312.5 L512.2,312.3 L512.7,312.1 L513.2,311.9 L513.7,311.7 L514.1,311.6 L514.6,311.4 L515.1,311.2 L515.6,311.1 L516.1,310.9 L516.6,310.8 L517.1,310.6 L517.6,310.5 L518.0,310.3 L518.5,310.2 L519.0,310.0 L519.5,309.9 L520.0,309.7 L520.5,309.6 L521.0,309.4" fill="none" stroke="#262626" stroke-width="2.2" stroke-linejoin="round"/>
<polygon points="443.8,359.9 441.0,365.0 446.6,365.0" fill="#262626"/>
<polygon points="446.4,359.4 443.6,364.5 449.2,364.5" fill="#262626"/>
<polygon points="447.7,358.6 444.9,363.6 450.5,363.6" fill="#262626"/>
<polygon points="449.7,356.8 446.9,361.9 452.5,361.9" fill="#262626"/>
<polygon points="451.4,356.6 448.6,361.6 454.2,361.6" fill="#262626"/>
<polygon points="454.7,355.2 451.9,360.2 457.5,360.2" fill="#262626"/>
<polygon points="457.2,353.0 454.4,358.1 460.0,358.1" fill="#262626"/>
<polygon points="458.9,352.5 456.1,357.6 461.7,357.6" fill="#262626"/>
<polygon points="462.1,352.4 459.3,357.4 464.9,357.4" fill="#262626"/>
<polygon points="463.9,350.4 461.1,355.4 466.7,355.4" fill="#262626"/>
<polygon points="466.3,349.9 463.5,354.9 469.1,354.9" fill="#262626"/>
<polygon points="469.2,348.5 466.4,353.5 472.0,353.5" fill="#262626"/>
<polygon points="471.5,348.5 468.7,353.5 474.3,353.5" fill="#262626"/>
<polygon points="473.9,347.6 471.1,352.7 476.7,352.7" fill="#262626"/>
<polygon points="475.5,345.1 472.7,350.1 478.3,350.1" fill="#262626"/>
<polygon points="477.0,343.4 474.2,348.4 479.8,348.4" fill="#262626"/>
<polygon points="479.3,341.1 476.5,346.1 482.1,346.1" fill="#262626"/>
<polygon points="480.5,340.1 477.7,345.1 483.3,345.1" fill="#262626"/>
<polygon points="482.3,336.9 479.5,341.9 485.1,341.9" fill="#262626"/>
<polygon points="483.9,335.6 481.1,340.6 486.7,340.6" fill="#262626"/>
<polygon points="486.0,334.4 483.2,339.5 488.8,339.5" fill="#262626"/>
<polygon points="488.4,332.6 485.6,337.6 491.2,337.6" fill="#262626"/>
<polygon points="489.6,329.3 486.8,334.3 492.4,334.3" fill="#262626"/>
<polygon points="491.2,327.3 488.4,332.3 494.0,332.3" fill="#262626"/>
<polygon points="493.6,324.5 490.8,329.5 496.4,329.5" fill="#262626"/>
<polygon points="495.0,321.7 492.2,326.8 497.8,326.8" fill="#262626"/>
<polygon points="497.2,319.5 494.4,324.5 500.0,324.5" fill="#262626"/>
<polygon points="499.1,317.9 496.3,323.0 501.9,323.0" fill="#262626"/>
<polygon points="500.9,315.0 498.1,320.0 503.7,320.0" fill="#262626"/>
<polygon points="502.8,313.4 500.0,318.5 505.6,318.5" fill="#262626"/>
<polygon points="505.3,311.8 502.5,316.8 508.1,316.8" fill="#262626"/>
<polygon points="508.1,309.7 505.3,314.7 510.9,314.7" fill="#262626"/>
<polygon points="510.0,308.9 507.2,313.9 512.8,313.9" fill="#262626"/>
<polygon points="512.4,309.0 509.6,314.0 515.2,314.0" fill="#262626"/>
<polygon points="515.2,307.2 512.4,312.2 518.0,312.2" fill="#262626"/>
<polygon points="517.9,307.4 515.1,312.4 520.7,312.4" fill="#262626"/>
<polygon points="521.0,305.2 518.2,310.3 523.8,310.3" fill="#262626"/>
<path d="M576.9,294.0 L577.3,293.7 L577.8,293.3 L578.2,293.0 L578.6,292.6 L579.0,292.3 L579.4,291.9 L579.9,291.6 L580.3,291.2 L580.6,290.8 L581.0,290.4 L581.3,290.0 L581.6,289.6 L582.0,289.2 L582.3,288.8 L582.6,288.4 L582.9,288.0 L583.3,287.6 L583.6,287.2 L583.9,286.8 L584.2,286.3 L584.6,285.9 L584.9,285.5 L585.2,285.0 L585.5,284.6 L585.9,284.2 L586.2,283.7 L586.5,283.3 L586.9,283.0 L587.3,282.6 L587.7,282.3 L588.1,282.0 L588.5,281.7 L588.9,281.3 L589.3,281.0 L589.7,280.7 L590.1,280.5 L590.6,280.2 L591.0,279.9 L591.4,279.6 L591.9,279.4 L592.3,279.1 L592.7,278.8 L593.1,278.4 L593.4,278.0 L593.8,277.7 L594.2,277.3 L594.5,276.9 L594.9,276.5 L595.3,276.2 L595.6,275.8 L596.0,275.4 L596.4,275.0 L596.8,274.6 L597.1,274.2 L597.5,273.9 L597.9,273.5 L598.3,273.1" fill="none" stroke="#262626" stroke-width="2.4" stroke-linejoin="round"/>
<polygon points="577.2,290.6 574.4,295.6 580.0,295.6" fill="#262626"/>
<polygon points="578.5,288.5 575.7,293.6 581.3,293.6" fill="#262626"/>
<polygon points="579.1,289.0 576.3,294.1 581.9,294.1" fill="#262626"/>
<polygon points="580.6,288.3 577.8,293.3 583.4,293.3" fill="#262626"/>
<polygon points="580.9,285.7 578.1,290.8 583.7,290.8" fill="#262626"/>
<polygon points="582.1,284.2 579.3,289.2 584.9,289.2" fill="#262626"/>
<polygon points="584.1,283.6 581.3,288.7 586.9,288.7" fill="#262626"/>
<polygon points="585.0,281.9 582.2,287.0 587.8,287.0" fill="#262626"/>
<polygon points="585.9,280.8 583.1,285.8 588.7,285.8" fill="#262626"/>
<polygon points="586.3,280.1 583.5,285.2 589.1,285.2" fill="#262626"/>
<polygon points="588.3,277.6 585.5,282.7 591.1,282.7" fill="#262626"/>
<polygon points="589.4,277.5 586.6,282.6 592.2,282.6" fill="#262626"/>
<polygon points="590.7,275.9 587.9,281.0 593.5,281.0" fill="#262626"/>
<polygon points="592.3,274.5 589.5,279.5 595.1,279.5" fill="#262626"/>
<polygon points="593.6,274.1 590.8,279.2 596.4,279.2" fill="#262626"/>
<polygon points="595.1,272.2 592.3,277.3 597.9,277.3" fill="#262626"/>
<polygon points="595.5,271.3 592.7,276.4 598.3,276.4" fill="#262626"/>
<polygon points="597.3,269.9 594.5,274.9 600.1,274.9" fill="#262626"/>
<polygon points="598.1,268.8 595.3,273.8 600.9,273.8" fill="#262626"/>
<polygon points="530.6,305.0 527.6,310.7 533.6,310.7" fill="#262626"/>
<polygon points="533.5,303.8 530.5,309.5 536.5,309.5" fill="#262626"/>
<polygon points="536.3,302.1 533.3,307.8 539.3,307.8" fill="#262626"/>
<polygon points="541.9,301.6 538.9,307.3 544.9,307.3" fill="#262626"/>
<polygon points="547.6,299.9 544.6,305.6 550.6,305.6" fill="#262626"/>
<polygon points="551.5,298.8 548.5,304.5 554.5,304.5" fill="#262626"/>
<polygon points="557.7,298.2 554.7,303.9 560.7,303.9" fill="#262626"/>
<polygon points="561.1,295.9 558.1,301.6 564.1,301.6" fill="#262626"/>
<polygon points="563.5,294.7 560.5,300.4 566.5,300.4" fill="#262626"/>
<polygon points="565.6,293.7 562.6,299.4 568.6,299.4" fill="#262626"/>
<polygon points="569.0,292.0 566.0,297.7 572.0,297.7" fill="#262626"/>
<polygon points="571.5,291.7 568.5,297.4 574.5,297.4" fill="#262626"/>
<polygon points="573.5,291.4 570.5,297.1 576.5,297.1" fill="#262626"/>
<path d="M122.6,781.1 L123.2,781.2 L123.4,778.2 L124.0,780.7 L124.6,777.7 L124.9,781.1 L125.5,778.4 L126.0,782.2 L126.5,779.6 L127.0,779.0 L127.4,778.8 L128.0,782.7 L128.3,778.2 L128.9,778.6 L129.1,783.1 L129.7,783.0 L130.2,783.7 L130.6,779.7 L131.1,782.1 L131.4,782.3 L132.1,784.3 L132.4,782.4 L133.0,781.6 L133.4,780.1 L134.0,783.8 L134.4,781.1 L135.0,781.0 L135.5,784.1 L135.8,779.3 L136.5,784.7 L136.8,779.4 L137.4,781.7 L137.8,783.4 L138.2,780.9 L138.7,781.6 L139.0,785.6 L139.5,783.8 L140.1,781.7 L140.4,782.9 L140.9,782.6 L141.3,781.7 L141.9,785.4 L142.2,783.2 L142.9,779.9 L143.4,780.3 L143.8,782.7 L144.3,781.1 L144.7,782.1 L145.1,781.8 L145.6,781.4 L146.1,779.3 L146.4,779.5 L147.0,776.4 L147.6,778.8 L148.0,774.4 L148.4,773.2 L148.9,774.7 L149.3,773.8 L149.7,773.4 L150.3,770.5 L150.9,770.3 L151.4,774.0 L151.8,769.2 L152.3,770.7 L152.9,768.7 L153.3,773.4 L153.8,771.9 L154.2,769.5 L154.6,772.5 L155.2,772.4 L155.8,767.8 L156.2,772.4 L156.5,769.1 L157.2,768.0 L157.7,768.8 L158.1,768.1 L158.5,772.8 L158.9,769.0 L159.5,770.5 L160.0,768.8 L160.4,767.3 L160.9,771.2 L161.6,770.3 L161.9,769.0 L162.4,766.8 L163.0,766.0 L163.6,763.5 L164.2,763.1 L164.7,761.1 L165.2,766.0 L165.6,769.3 L166.3,768.3 L166.8,771.6 L167.3,770.5 L167.9,772.7 L168.1,774.2 L168.6,771.0 L169.2,770.6 L169.6,772.2 L170.0,774.0 L170.5,777.6 L170.9,776.4 L171.3,773.1 L171.7,774.7 L172.3,777.1 L172.7,780.6 L173.2,778.9 L173.6,776.8 L174.2,775.1 L174.5,776.6 L174.9,776.1 L175.5,777.0 L176.0,776.0 L176.5,774.0 L177.0,775.5 L177.4,778.1 L177.9,773.2 L178.4,775.9 L179.1,776.6 L179.5,774.7 L180.0,772.7 L180.4,774.5 L181.0,772.2 L181.5,772.2 L182.0,772.0 L182.6,773.2 L182.9,774.0 L183.3,771.6 L183.9,769.7 L184.2,772.7 L184.7,771.2 L185.5,768.5 L185.8,770.5 L186.2,771.4 L186.7,771.8 L187.3,769.2 L187.6,770.2 L188.0,773.9 L188.6,773.1 L189.0,772.0 L189.4,774.3 L190.1,772.4 L190.6,772.6 L191.0,770.8 L191.5,770.6 L192.1,773.7 L192.5,775.6 L193.1,776.5 L193.6,773.4 L194.0,774.8 L194.6,775.8 L195.0,776.0 L195.4,777.3 L196.1,775.1 L196.6,774.3 L196.9,776.1 L197.5,780.7 L198.0,777.4 L198.4,778.9 L199.0,777.6 L199.3,780.9 L199.8,779.4 L200.3,780.8 L200.7,779.8 L201.3,779.6 L201.6,778.6 L202.2,775.9 L202.6,776.8" fill="none" stroke="#f96a12" stroke-width="1.45" stroke-linejoin="round"/>
<path d="M214.2,780.0 L214.6,782.8 L215.1,786.7 L215.7,783.5 L216.3,788.4 L216.7,788.5 L217.4,781.3 L218.0,781.0 L218.4,778.6 L219.1,782.4 L219.6,783.4 L219.9,782.8 L220.5,784.5 L221.2,785.2 L221.6,783.2" fill="none" stroke="#f96a12" stroke-width="1.45" stroke-linejoin="round"/>
<path d="M231.6,776.1 L231.9,777.4 L232.6,777.0 L232.8,771.6 L233.4,772.5 L233.8,771.5 L234.6,778.0 L235.0,778.0 L235.5,781.0 L236.0,778.8 L236.4,778.7 L237.0,782.1 L237.6,779.5 L237.9,779.9 L238.4,778.1 L238.9,780.0 L239.5,776.8 L240.0,777.0 L240.6,776.9 L241.1,777.4 L241.4,776.0 L242.0,778.0 L242.5,777.5 L243.0,776.1 L243.5,776.8 L244.1,778.4 L244.6,781.3 L244.9,783.9 L245.5,788.1 L246.1,789.8 L246.4,785.6 L247.0,786.3 L247.4,783.3 L248.0,784.1 L248.5,780.9 L248.6,778.6 L248.7,769.2 L249.0,765.9 L249.0,761.7 L249.1,757.6 L249.5,752.6 L249.6,745.0 L249.7,740.3 L250.0,733.4 L250.1,728.1 L250.1,724.5 L250.3,720.9 L250.5,726.2 L250.5,733.9 L250.5,736.7 L250.7,743.8 L250.9,748.5 L250.9,751.9 L250.9,760.4 L251.1,765.1 L251.1,768.6 L251.4,774.8 L251.3,779.4 L251.5,785.0 L251.9,778.4 L252.0,773.8 L252.5,772.1 L252.6,762.9 L253.0,760.0 L253.3,753.8 L253.8,747.6 L254.2,742.5 L254.8,740.6 L255.1,734.0 L255.1,742.0 L255.3,743.7 L255.7,751.4 L255.7,754.4 L255.7,760.8 L255.8,763.4 L256.0,767.6 L256.2,777.3 L256.4,780.8 L256.5,786.0 L256.7,780.4 L256.8,775.9 L257.0,771.3 L257.4,764.1 L257.4,760.6 L257.6,752.1 L257.8,750.7 L258.0,744.2 L258.3,738.7 L258.4,732.0 L258.5,727.6 L258.7,721.5 L258.7,726.3 L259.0,733.4 L259.1,736.0 L259.1,742.5 L259.3,747.5 L259.5,756.0 L259.4,759.7 L259.7,763.4 L259.8,772.2 L259.7,774.9 L260.0,780.0 L260.4,776.7 L261.1,770.1 L261.4,765.4 L262.0,760.0 L262.3,756.3 L262.5,750.8 L262.8,745.1 L263.0,742.7 L263.2,736.1 L263.5,730.0 L263.6,736.6 L263.7,742.9 L263.9,742.3 L264.0,749.4 L264.1,754.5 L264.4,761.2 L264.5,763.6 L264.6,771.4 L265.0,775.2 L265.0,780.0 L265.0,776.7 L265.1,768.1 L265.1,766.4 L265.4,760.5 L265.4,754.9 L265.4,752.2 L265.5,745.2 L265.8,741.2 L265.7,733.0 L265.8,726.9 L266.0,723.2 L266.1,717.5 L266.0,712.4 L266.1,706.9 L266.1,705.0 L266.3,697.0 L266.4,693.4 L266.5,688.4 L266.5,694.3 L266.7,697.7 L266.8,705.8 L266.6,710.7 L266.9,715.5 L266.7,720.9 L266.9,721.1 L266.8,731.8 L267.0,732.7 L266.9,737.1 L267.0,746.0 L267.1,747.3 L267.3,756.2 L267.1,761.9 L267.3,766.4 L267.4,772.1 L267.5,776.9 L267.4,781.1 L267.5,785.0 L268.0,783.5 L268.5,781.3 L269.0,774.6 L269.4,770.8 L270.0,770.0 L270.5,771.1 L271.0,775.4 L271.5,781.2 L272.0,785.0 L272.1,782.0 L272.1,776.7 L272.3,769.9 L272.5,766.4 L272.5,758.7 L272.8,751.5 L272.9,749.7 L272.8,744.3 L273.1,741.1 L273.1,736.2 L273.3,728.1 L273.5,720.2 L273.6,718.6 L273.6,714.8 L273.7,707.3 L273.9,704.0 L273.9,696.8 L274.1,692.0 L274.1,697.5 L274.3,701.1 L274.4,707.0 L274.3,711.4 L274.4,720.8 L274.5,724.9 L274.4,727.2 L274.5,734.0 L274.6,740.4 L274.5,745.2 L274.8,749.3 L274.6,753.1 L274.7,757.6 L275.0,765.3 L275.0,771.5 L275.0,775.0 L275.2,770.7 L275.3,765.8 L275.4,760.6 L275.6,753.3 L275.7,749.7 L275.8,742.6 L275.8,737.2 L276.1,737.5 L276.2,729.2 L276.3,726.7 L276.4,718.5 L276.5,715.0 L276.6,719.5 L276.7,724.6 L277.0,732.6 L276.9,735.4 L277.0,737.7 L277.4,745.5 L277.6,749.7 L277.4,754.3 L277.8,762.6 L278.0,764.9 L278.0,770.0 L278.5,772.5 L279.1,779.7 L279.6,777.5 L279.9,775.9 L280.4,779.5 L281.0,778.0 L281.4,781.8 L281.9,782.2 L282.4,778.1 L283.0,782.0" fill="none" stroke="#f96a12" stroke-width="1.45" stroke-linejoin="round"/>
<path d="M293.5,772.0 L294.1,765.0 L294.8,768.9 L295.5,771.6" fill="none" stroke="#f96a12" stroke-width="1.45" stroke-linejoin="round"/>
<path d="M310.9,714.1 L311.1,717.3 L311.2,722.1 L311.1,731.7 L311.4,737.5 L311.5,740.0 L312.1,735.8 L312.5,738.0 L312.7,734.4 L312.9,731.0 L313.0,726.0 L313.3,713.6 L313.3,713.3 L313.6,707.0 L313.7,709.1 L313.6,719.2 L313.6,725.5 L313.7,724.6 L313.7,733.8 L313.7,739.8 L313.6,746.0 L313.7,750.1 L313.8,754.2 L314.3,756.3 L314.8,761.8 L315.4,764.5 L315.8,765.1 L316.4,765.7 L316.7,773.0 L317.4,771.6 L318.0,773.4 L318.5,771.0 L319.1,769.5 L319.8,771.4 L320.2,766.9 L320.7,770.7 L321.2,767.2 L321.7,767.6 L322.2,768.1 L322.7,764.1 L323.4,760.7 L324.1,757.8 L324.4,756.3 L325.1,756.8 L325.6,750.8 L326.1,743.4 L326.9,746.0 L327.7,749.9 L328.3,753.9 L328.7,752.0 L329.0,754.6 L329.7,754.8 L330.1,750.3 L330.6,754.4 L331.0,752.1 L331.1,755.6 L331.7,756.8 L332.1,748.5 L332.6,751.9 L333.1,747.7 L333.5,750.8 L333.5,758.0 L333.9,759.3 L333.9,768.0 L334.0,769.6 L334.0,779.0 L334.2,782.4 L334.4,776.5 L334.2,773.6 L334.5,763.7 L334.5,763.2 L334.7,754.8 L334.6,749.8 L334.6,741.2 L334.8,738.0 L335.2,736.3 L335.8,732.0 L336.3,728.4 L336.9,725.0 L337.1,724.6 L337.5,722.9 L338.2,727.1 L338.4,730.8 L339.1,728.9 L339.5,732.1 L340.0,735.0 L340.5,734.7 L340.8,745.4 L341.5,744.9 L341.9,748.4 L342.2,741.3 L342.5,737.4 L342.8,734.7 L343.0,731.0 L343.1,722.2 L343.5,721.9 L344.0,726.2 L344.4,728.4 L345.0,735.0 L345.6,732.1 L346.1,726.9 L346.6,717.7 L347.2,720.5 L347.5,730.0 L348.0,727.7 L348.5,727.0 L348.5,736.0 L348.6,738.4 L348.8,746.9 L348.9,748.1 L348.9,751.8 L349.2,763.6 L349.1,765.3 L349.5,760.0 L350.0,760.6 L350.5,760.0 L351.2,765.9 L351.7,762.2 L352.2,770.1 L352.7,771.3 L353.4,771.8 L354.0,765.0 L354.3,762.8 L355.0,769.4 L355.5,765.1 L355.9,769.1 L356.4,767.7 L356.9,761.5 L357.6,758.0 L358.0,748.0 L358.5,743.8 L359.0,742.0 L359.4,742.6 L360.0,746.0 L360.7,735.8 L361.2,733.0 L361.7,732.4 L362.0,739.8 L362.5,741.5 L363.0,740.0 L363.6,740.6 L363.8,735.0 L364.3,736.3 L364.9,731.7 L365.3,727.2 L365.8,725.9 L366.2,723.8 L366.7,724.2 L367.2,730.0 L367.6,731.3 L368.2,739.7 L368.6,744.0 L369.0,741.5 L369.5,732.7 L370.0,728.0 L370.4,727.2 L371.1,728.6 L371.4,730.8 L372.0,731.8 L372.4,733.7 L372.8,733.0 L373.4,728.2 L373.7,737.2 L374.4,737.9 L374.7,744.4 L375.2,752.0 L375.3,744.2 L375.6,744.7 L375.9,738.7 L376.0,730.0 L376.3,727.1 L377.1,724.0 L377.4,726.0 L378.0,727.4 L378.6,728.3 L379.0,735.0 L379.6,735.6 L379.8,734.9 L380.5,740.7 L380.8,741.8 L381.5,742.0 L381.8,746.0 L382.4,740.2 L383.0,740.0 L383.4,743.3 L384.1,740.1 L384.4,740.5 L385.1,744.8 L385.5,743.8 L386.1,747.2 L386.6,749.6 L387.2,749.4 L387.5,746.3 L388.2,749.7 L388.7,747.8 L389.1,752.0 L389.7,751.1 L390.2,755.5 L390.6,749.3 L391.3,753.2 L391.8,751.9 L392.1,756.6 L392.7,754.4 L393.1,751.5 L393.6,754.5 L393.9,753.7 L394.5,753.3 L394.8,754.5 L395.5,755.4 L395.8,753.9 L396.3,752.0 L396.8,753.5 L397.2,754.0 L398.1,750.8 L398.5,750.6 L399.0,750.0 L399.5,746.6 L400.1,748.5 L400.3,747.8 L400.8,753.6 L401.2,748.4 L401.9,749.4 L402.3,752.0 L402.6,751.3 L403.2,749.2 L403.7,744.5 L404.1,746.0 L404.2,744.0 L404.0,730.7 L404.1,730.9 L404.0,720.6 L404.1,715.7 L404.1,720.8 L404.0,711.8 L404.2,701.0 L404.2,706.8 L404.1,694.5 L404.2,691.0 L404.1,691.8 L404.2,678.3 L404.1,673.2 L404.1,677.2 L404.2,671.2 L404.3,665.3 L404.0,655.6 L404.3,656.4 L404.1,644.2 L404.2,638.4 L404.2,629.2 L404.2,630.3 L404.0,620.1 L404.3,624.0 L404.3,617.0 L404.3,615.5 L404.3,598.5 L404.2,600.0 L404.3,591.5 L404.5,586.4 L404.5,590.3 L404.6,575.6 L404.7,572.9 L404.9,565.7 L404.8,565.5 L404.9,559.5 L405.2,553.1 L405.1,547.3 L405.3,542.5 L405.4,542.9 L405.4,548.0 L405.6,557.1 L405.7,560.1 L405.7,569.7 L406.1,575.9 L406.1,581.8 L406.1,587.9 L406.3,591.0 L406.4,595.2 L406.5,600.9 L406.3,602.5 L406.2,611.6 L406.1,617.8 L405.8,619.8 L406.0,623.5 L405.7,632.2 L405.6,637.6 L405.7,639.2 L406.0,630.9 L406.1,615.8 L406.6,615.8 L406.5,609.8 L406.9,609.4 L407.1,600.9 L407.0,602.6 L407.3,615.3 L407.1,615.2 L407.3,625.5 L407.4,633.4 L407.5,634.3 L407.5,643.0 L407.5,645.1 L408.0,650.4 L408.3,659.3 L408.7,656.8 L409.0,667.7 L409.4,653.8 L409.5,653.8 L410.0,657.7 L410.4,665.7 L410.9,660.8 L411.3,664.7 L411.5,675.5 L411.5,674.2 L411.6,680.9 L411.8,684.1 L411.8,693.4 L411.9,695.7 L412.0,703.8 L412.5,703.6 L412.7,692.9 L413.0,685.8 L413.4,684.6 L413.9,672.7 L414.4,670.9 L414.7,673.0 L415.0,663.2 L415.6,656.3 L416.0,663.4 L416.4,648.6 L417.0,652.1 L417.6,653.2 L418.0,646.6 L418.5,660.3 L419.0,660.0 L419.5,654.4 L420.1,646.9 L420.5,643.9 L421.1,636.8 L421.5,649.7 L422.0,650.0 L422.7,651.7 L423.3,652.6 L423.6,656.6 L424.1,665.1 L424.5,670.0 L424.8,670.3 L425.2,659.7 L425.4,656.6 L425.8,647.7 L426.0,649.3 L426.3,639.8 L426.4,642.3 L426.9,654.5 L426.9,649.5 L427.3,662.7 L427.5,671.9 L427.7,669.0 L427.8,675.2 L427.9,677.3 L428.3,685.3 L428.5,685.8 L428.8,696.7 L429.0,707.2 L429.3,705.3 L429.7,704.9 L430.1,717.3 L430.5,722.0 L431.0,721.3 L431.4,716.6 L432.0,720.0 L432.6,719.7 L433.0,716.4 L433.4,717.8 L433.8,717.6 L434.3,719.0 L434.8,715.0 L435.3,712.8 L435.9,716.3 L436.3,718.7 L437.0,725.0 L437.5,727.5 L437.8,732.9 L438.4,740.0 L438.9,738.5 L439.5,734.9 L440.0,729.4 L440.4,730.4 L441.1,736.6 L441.6,740.9 L442.0,746.0 L442.4,747.2 L442.8,746.2 L443.2,750.7 L443.8,747.6 L444.2,748.3 L444.5,751.9 L445.1,752.8 L445.5,751.1 L446.0,750.8 L446.4,745.4 L447.1,748.2 L447.4,746.0 L448.0,741.0 L448.6,740.2 L449.1,744.9 L449.6,742.4 L450.1,743.8 L450.5,738.8 L451.0,738.0 L451.6,735.9 L452.0,739.7 L452.6,738.8 L453.2,736.6 L453.6,735.9 L454.1,737.4 L454.7,739.5 L455.1,739.7 L455.5,742.9 L456.0,745.0 L456.4,740.7 L456.8,744.0 L457.3,738.7 L457.7,737.4 L458.2,734.3 L458.8,734.7 L459.2,734.2 L459.6,737.3 L460.0,736.3 L460.7,737.2 L461.0,743.6 L461.6,741.0 L462.0,745.0 L462.5,745.3 L463.0,745.6 L463.4,744.4 L464.0,738.6 L464.5,736.8 L465.0,738.0 L465.5,735.7 L466.1,737.0 L466.4,734.1 L467.0,733.1 L467.5,731.7 L467.9,733.6 L468.3,734.3 L468.9,731.8 L469.4,735.4 L470.0,735.7 L470.4,736.8 L471.0,742.0 L471.4,743.6 L472.0,741.8 L472.5,740.6 L473.1,739.6 L473.7,739.0 L474.1,737.9 L474.6,740.5 L475.0,745.3 L475.6,744.9 L476.1,747.2 L476.7,747.8 L477.2,747.1 L477.4,742.2 L477.9,743.5 L478.6,740.2 L479.0,740.0 L479.4,740.9 L480.0,738.2 L480.5,738.7 L480.8,737.5 L481.1,742.1 L481.8,740.7 L482.0,736.3 L482.6,739.1 L483.0,736.2 L483.6,736.4 L484.1,735.0 L484.8,735.3 L485.4,736.6 L486.0,742.1" fill="none" stroke="#f96a12" stroke-width="1.45" stroke-linejoin="round"/>
<path d="M496.1,720.3 L496.7,722.7 L497.2,720.4 L497.6,726.3 L498.1,732.0 L498.6,723.8 L499.1,734.6 L499.8,733.0 L499.9,732.3 L499.8,715.4 L500.0,719.2 L499.8,708.2 L499.9,711.8 L499.9,708.6 L500.1,690.2 L500.2,690.0 L500.2,691.8 L500.1,674.8 L500.4,675.0 L500.4,674.1 L500.4,671.1 L500.4,659.9 L500.2,658.7 L500.4,650.5 L500.6,639.2 L500.5,640.0 L500.6,627.6 L500.7,634.7 L500.6,625.4 L500.9,621.8 L500.8,610.4 L500.7,607.1 L500.9,599.5 L500.9,593.3 L501.1,596.7 L501.0,584.8 L501.1,582.9 L501.3,576.3 L501.2,579.7 L501.2,569.5 L501.3,568.4 L501.4,562.4 L501.4,555.8 L501.6,547.4 L501.7,548.2 L501.5,534.4 L501.7,532.7 L501.6,533.5 L501.4,540.2 L501.3,552.4 L501.3,548.4 L501.2,560.1 L501.6,566.2 L502.0,568.1 L502.5,580.0 L502.9,567.2 L503.5,570.0 L503.9,579.2 L503.8,583.9 L504.3,586.6 L504.4,590.8 L504.3,596.1 L504.5,596.7 L504.5,599.3 L504.7,614.9 L504.7,625.0 L504.7,619.5 L504.7,628.9 L505.3,630.5 L505.5,630.8 L505.8,647.1 L506.3,645.6 L506.5,655.0 L506.6,652.2 L506.9,651.8 L507.0,640.0 L507.2,649.6 L507.6,653.9 L507.7,650.0 L508.0,660.0 L508.4,662.1 L508.6,670.0 L509.0,664.9 L509.4,663.4 L509.8,652.2 L510.3,641.3 L511.0,645.0 L511.5,642.2 L512.1,638.6 L512.5,630.5 L512.7,642.8 L512.7,640.9 L512.8,642.9 L513.0,644.5 L513.2,651.1 L513.2,669.1 L513.3,659.5 L513.5,672.0 L513.8,661.4 L514.2,652.7 L514.5,655.0 L514.8,666.1 L515.0,664.6 L515.0,673.8 L515.3,675.3 L515.5,682.0 L515.6,675.7 L515.9,676.6 L516.1,660.6 L516.1,659.8 L516.4,652.9 L516.5,650.0 L516.6,648.6 L516.8,659.8 L517.2,672.1 L517.4,678.4 L517.5,676.0 L517.9,672.2 L518.1,657.5 L518.3,660.5 L518.5,653.0 L518.9,657.1 L519.6,658.7 L520.0,658.8 L520.4,671.2 L520.9,668.0 L521.3,656.5 L522.0,655.0 L522.6,650.4 L522.9,650.1 L523.5,645.0 L524.0,640.0 L524.4,635.4 L524.8,628.2 L525.0,619.7 L525.7,620.5 L525.8,620.5 L526.3,609.6 L526.3,608.4 L526.5,616.2 L526.7,626.3 L526.7,631.9 L526.9,636.0 L527.1,642.2 L527.5,641.3 L527.7,647.2 L528.0,660.0 L528.5,663.9 L529.0,659.6 L529.6,648.1 L530.1,655.9 L530.5,650.5 L530.9,652.9 L531.5,639.4 L532.1,642.8 L532.6,633.1 L533.0,636.0 L533.6,633.4 L534.0,645.0 L534.4,639.3 L534.9,639.1 L535.4,630.7 L536.1,629.0 L536.5,626.5 L537.1,625.5 L537.6,621.7 L538.1,623.7 L538.4,618.8 L539.0,612.0 L539.2,611.0 L539.5,606.7 L539.6,596.2 L540.2,600.0 L540.5,593.0 L541.0,590.0 L541.3,591.6 L541.6,571.5 L541.8,566.8 L542.1,572.4 L542.3,562.0 L542.4,574.8 L542.8,570.1 L543.0,580.0 L543.4,574.1 L544.0,570.0 L544.4,576.3 L544.4,572.3 L544.6,589.8 L544.9,590.9 L545.2,598.0 L545.5,600.0 L545.7,588.6 L546.0,589.1 L546.2,587.7 L546.5,569.2 L546.5,565.7 L546.8,565.5 L547.0,577.6 L547.2,570.3 L547.2,589.0 L547.5,590.0 L547.6,583.3 L547.7,574.5 L547.9,573.3 L548.0,571.7 L547.8,562.2 L547.9,566.3 L548.1,547.6 L548.1,547.7 L548.3,546.2 L548.3,537.6 L548.3,536.2 L548.5,522.2 L548.6,524.9 L548.7,537.7 L548.6,529.3 L548.9,536.3 L548.9,544.9 L548.9,551.0 L549.1,562.3 L549.3,552.5 L549.3,569.3 L549.4,574.4 L549.5,577.1 L549.5,580.0 L549.6,581.5 L549.9,596.0 L550.2,597.9 L550.2,600.0 L550.5,609.6 L551.0,610.9 L551.3,616.1 L551.5,618.9 L551.7,625.0 L551.7,629.1 L552.0,644.7 L552.2,642.1 L552.6,633.9 L553.0,630.0 L553.4,631.5 L554.0,641.4 L554.3,629.9 L554.6,630.0 L554.8,630.7 L555.2,618.6 L555.5,611.0 L555.8,608.9 L556.3,603.5 L557.0,612.0 L557.4,602.9 L558.0,600.0 L558.6,598.3 L559.1,592.4 L559.6,593.8 L560.0,590.0 L560.3,579.8 L560.9,587.6 L561.2,579.2 L561.7,575.6 L562.1,564.6 L562.4,569.6 L563.0,575.0 L563.7,574.3 L564.1,573.1 L564.8,583.6 L564.8,585.2 L565.1,589.7 L565.2,594.6 L565.4,610.5 L565.5,610.0 L565.8,610.1 L566.0,620.0" fill="none" stroke="#f96a12" stroke-width="1.45" stroke-linejoin="round"/>
<path d="M579.8,738.3 L580.0,739.5 L580.0,721.9 L580.2,727.8 L580.2,712.2 L580.3,712.0 L580.3,718.3 L580.7,725.5 L580.8,725.2 L580.8,735.0 L580.8,733.5 L581.0,723.7 L581.1,717.7 L581.0,713.8 L581.0,711.8 L581.2,704.9 L581.3,700.0 L581.4,701.6 L581.5,703.2 L581.7,715.9 L581.8,713.8 L581.8,725.0 L581.9,723.1 L581.9,709.3 L581.9,705.0 L582.2,699.3 L582.3,698.9 L582.3,695.0 L582.4,701.2 L582.6,707.2 L582.7,707.6 L582.8,715.0 L583.0,706.2 L583.1,707.9 L583.2,696.1 L583.3,700.1 L583.3,688.0 L583.5,690.6 L583.6,705.5 L583.8,705.0 L583.8,693.1 L584.1,697.2 L584.3,688.1 L584.5,681.2 L584.5,680.0 L584.7,679.3 L584.6,684.9 L584.7,695.0 L585.0,700.0 L585.2,690.5 L585.5,688.1 L585.4,680.5 L585.7,685.9 L585.8,675.0 L585.9,673.4 L586.2,681.4 L586.3,690.0 L586.5,685.0 L586.5,677.8 L586.7,674.4 L586.6,675.6 L586.7,668.3 L586.8,662.0 L587.0,655.0 L587.1,665.1 L587.1,665.9 L587.3,675.9 L587.5,676.8 L587.5,680.0 L587.5,671.5 L587.7,669.1 L587.8,660.8 L588.0,662.0 L588.0,661.9 L588.2,650.0 L588.3,657.0 L588.5,667.1 L588.8,668.0 L589.0,659.7 L589.1,662.5 L589.0,650.6 L589.2,653.5 L589.2,645.6 L589.4,638.0 L589.6,643.0 L589.8,654.7 L590.0,655.0 L590.0,655.4 L590.1,648.9 L590.4,635.6 L590.5,641.9 L590.4,623.3 L590.4,631.6 L590.6,620.0 L590.5,620.6 L590.6,613.1 L590.6,600.0 L590.8,593.8 L590.7,600.3 L590.8,594.7 L590.9,577.7 L590.7,583.2 L590.9,567.5 L590.9,565.1 L590.9,558.2 L590.8,565.5 L590.9,558.8 L591.0,548.4 L590.9,553.4 L591.0,557.7 L591.1,566.5 L591.1,572.4 L591.3,568.8 L591.3,579.3 L591.5,582.4 L591.3,596.2 L591.6,598.1 L591.5,600.0 L591.5,590.3 L591.6,583.6 L591.6,584.6 L591.8,579.3 L591.9,585.2 L591.9,582.6 L592.1,596.7 L592.2,600.3 L592.3,611.5 L592.4,612.9 L592.4,612.4 L592.5,620.0 L592.6,631.6 L592.6,628.4 L592.7,630.0 L593.0,633.1 L592.9,651.0 L593.0,650.0 L593.0,656.6 L593.1,656.4 L593.1,659.6 L593.4,674.0 L593.4,668.7 L593.4,677.5 L593.5,685.7 L593.5,690.0 L593.8,689.6 L594.2,676.0 L594.2,685.4 L594.6,688.1 L594.7,700.9 L594.8,700.0 L594.9,695.3 L595.3,685.3 L595.4,680.5 L595.6,684.9 L595.7,693.8 L595.9,695.6 L596.0,704.0 L596.3,697.6 L596.5,690.0 L596.8,696.6 L597.2,700.0 L597.3,700.7 L597.5,693.1 L597.7,684.7 L597.8,680.0 L597.8,680.7 L598.2,691.7 L598.2,697.0" fill="none" stroke="#f96a12" stroke-width="1.45" stroke-linejoin="round"/>
<polygon points="253.3,751.4 250.7,756.2 256.0,756.2" fill="#e4e4e4" stroke="#6a6a6a" stroke-width="0.85"/>
<polygon points="263.3,752.0 260.7,756.8 265.9,756.8" fill="#e4e4e4" stroke="#6a6a6a" stroke-width="0.85"/>
<polygon points="249.7,757.2 247.0,762.0 252.3,762.0" fill="#e4e4e4" stroke="#6a6a6a" stroke-width="0.85"/>
<polygon points="253.9,761.1 251.2,765.9 256.6,765.9" fill="#e4e4e4" stroke="#6a6a6a" stroke-width="0.85"/>
<polygon points="259.9,759.9 257.2,764.7 262.5,764.7" fill="#e4e4e4" stroke="#6a6a6a" stroke-width="0.85"/>
<polygon points="256.5,765.9 253.8,770.7 259.1,770.7" fill="#e4e4e4" stroke="#6a6a6a" stroke-width="0.85"/>
<polygon points="266.5,765.9 263.9,770.7 269.1,770.7" fill="#e4e4e4" stroke="#6a6a6a" stroke-width="0.85"/>
<polygon points="269.5,759.9 266.9,764.7 272.1,764.7" fill="#e4e4e4" stroke="#6a6a6a" stroke-width="0.85"/>
<polygon points="276.1,761.7 273.5,766.5 278.8,766.5" fill="#e4e4e4" stroke="#6a6a6a" stroke-width="0.85"/>
<polygon points="249.7,774.1 247.0,778.9 252.3,778.9" fill="#e4e4e4" stroke="#6a6a6a" stroke-width="0.85"/>
<polygon points="262.5,773.1 259.9,777.9 265.1,777.9" fill="#e4e4e4" stroke="#6a6a6a" stroke-width="0.85"/>
<polygon points="274.3,773.7 271.7,778.5 276.9,778.5" fill="#e4e4e4" stroke="#6a6a6a" stroke-width="0.85"/>
<polygon points="249.7,783.9 247.0,788.7 252.3,788.7" fill="#e4e4e4" stroke="#6a6a6a" stroke-width="0.85"/>
<polygon points="255.7,783.9 253.0,788.7 258.3,788.7" fill="#e4e4e4" stroke="#6a6a6a" stroke-width="0.85"/>
<polygon points="265.9,783.9 263.2,788.7 268.5,788.7" fill="#e4e4e4" stroke="#6a6a6a" stroke-width="0.85"/>
<polygon points="269.5,781.3 266.9,786.1 272.1,786.1" fill="#e4e4e4" stroke="#6a6a6a" stroke-width="0.85"/>
<polygon points="275.5,779.3 272.9,784.1 278.1,784.1" fill="#e4e4e4" stroke="#6a6a6a" stroke-width="0.85"/>
<polygon points="280.6,779.7 278.0,784.5 283.2,784.5" fill="#e4e4e4" stroke="#6a6a6a" stroke-width="0.85"/>
<polygon points="284.0,750.8 281.4,755.6 286.6,755.6" fill="#e4e4e4" stroke="#6a6a6a" stroke-width="0.85"/>
<polygon points="282.7,791.7 280.1,796.5 285.3,796.5" fill="#e4e4e4" stroke="#6a6a6a" stroke-width="0.85"/>
<polygon points="276.5,797.2 273.9,802.0 279.1,802.0" fill="#e4e4e4" stroke="#6a6a6a" stroke-width="0.85"/>
<polygon points="283.3,802.9 280.7,807.7 285.9,807.7" fill="#e4e4e4" stroke="#6a6a6a" stroke-width="0.85"/>
<polygon points="284.3,751.2 281.7,756.0 286.9,756.0" fill="#e4e4e4" stroke="#6a6a6a" stroke-width="0.85"/>
<polygon points="281.1,780.5 278.5,785.3 283.8,785.3" fill="#e4e4e4" stroke="#6a6a6a" stroke-width="0.85"/>
<polygon points="347.9,771.3 345.2,776.1 350.5,776.1" fill="#e4e4e4" stroke="#6a6a6a" stroke-width="0.85"/>
<polygon points="354.2,778.5 351.6,783.3 356.8,783.3" fill="#e4e4e4" stroke="#6a6a6a" stroke-width="0.85"/>
<polygon points="346.1,791.7 343.5,796.5 348.8,796.5" fill="#e4e4e4" stroke="#6a6a6a" stroke-width="0.85"/>
<polygon points="355.8,790.9 353.2,795.7 358.4,795.7" fill="#e4e4e4" stroke="#6a6a6a" stroke-width="0.85"/>
<polygon points="344.6,803.4 342.0,808.2 347.2,808.2" fill="#e4e4e4" stroke="#6a6a6a" stroke-width="0.85"/>
<polygon points="353.3,802.6 350.7,807.4 355.9,807.4" fill="#e4e4e4" stroke="#6a6a6a" stroke-width="0.85"/>
<polygon points="406.5,699.9 403.9,704.7 409.1,704.7" fill="#e4e4e4" stroke="#6a6a6a" stroke-width="0.85"/>
<polygon points="407.7,702.9 405.1,707.7 410.3,707.7" fill="#e4e4e4" stroke="#6a6a6a" stroke-width="0.85"/>
<polygon points="434.2,690.9 431.6,695.7 436.8,695.7" fill="#e4e4e4" stroke="#6a6a6a" stroke-width="0.85"/>
<polygon points="435.4,701.1 432.8,705.9 438.0,705.9" fill="#e4e4e4" stroke="#6a6a6a" stroke-width="0.85"/>
<polygon points="420.6,712.9 418.0,717.7 423.2,717.7" fill="#e4e4e4" stroke="#6a6a6a" stroke-width="0.85"/>
<polygon points="427.0,719.2 424.4,724.0 429.6,724.0" fill="#e4e4e4" stroke="#6a6a6a" stroke-width="0.85"/>
<polygon points="430.6,718.6 428.0,723.4 433.2,723.4" fill="#e4e4e4" stroke="#6a6a6a" stroke-width="0.85"/>
<polygon points="421.5,722.8 418.9,727.6 424.1,727.6" fill="#e4e4e4" stroke="#6a6a6a" stroke-width="0.85"/>
<polygon points="423.3,724.6 420.7,729.4 425.9,729.4" fill="#e4e4e4" stroke="#6a6a6a" stroke-width="0.85"/>
<polygon points="425.2,735.4 422.6,740.2 427.8,740.2" fill="#e4e4e4" stroke="#6a6a6a" stroke-width="0.85"/>
<polygon points="434.2,737.8 431.6,742.6 436.8,742.6" fill="#e4e4e4" stroke="#6a6a6a" stroke-width="0.85"/>
<polygon points="423.3,743.0 420.7,747.8 425.9,747.8" fill="#e4e4e4" stroke="#6a6a6a" stroke-width="0.85"/>
<polygon points="416.1,746.4 413.5,751.2 418.8,751.2" fill="#e4e4e4" stroke="#6a6a6a" stroke-width="0.85"/>
<polygon points="428.5,744.5 425.9,749.3 431.1,749.3" fill="#e4e4e4" stroke="#6a6a6a" stroke-width="0.85"/>
<polygon points="434.5,738.4 431.9,743.2 437.1,743.2" fill="#e4e4e4" stroke="#6a6a6a" stroke-width="0.85"/>
<polygon points="436.0,742.4 433.4,747.2 438.6,747.2" fill="#e4e4e4" stroke="#6a6a6a" stroke-width="0.85"/>
<polygon points="409.5,751.7 406.9,756.5 412.1,756.5" fill="#e4e4e4" stroke="#6a6a6a" stroke-width="0.85"/>
<polygon points="410.5,758.7 407.9,763.5 413.1,763.5" fill="#e4e4e4" stroke="#6a6a6a" stroke-width="0.85"/>
<polygon points="424.5,756.8 421.9,761.6 427.1,761.6" fill="#e4e4e4" stroke="#6a6a6a" stroke-width="0.85"/>
<polygon points="432.4,755.0 429.8,759.8 435.0,759.8" fill="#e4e4e4" stroke="#6a6a6a" stroke-width="0.85"/>
<polygon points="434.2,761.7 431.6,766.5 436.8,766.5" fill="#e4e4e4" stroke="#6a6a6a" stroke-width="0.85"/>
<polygon points="426.4,750.5 423.8,755.3 429.0,755.3" fill="#e4e4e4" stroke="#6a6a6a" stroke-width="0.85"/>
<polygon points="424.2,771.9 421.6,776.7 426.8,776.7" fill="#e4e4e4" stroke="#6a6a6a" stroke-width="0.85"/>
<polygon points="424.0,787.8 421.4,792.6 426.6,792.6" fill="#e4e4e4" stroke="#6a6a6a" stroke-width="0.85"/>
<polygon points="424.0,793.5 421.4,798.3 426.6,798.3" fill="#e4e4e4" stroke="#6a6a6a" stroke-width="0.85"/>
<polygon points="427.6,792.9 425.0,797.7 430.2,797.7" fill="#e4e4e4" stroke="#6a6a6a" stroke-width="0.85"/>
<polygon points="418.9,799.0 416.2,803.8 421.5,803.8" fill="#e4e4e4" stroke="#6a6a6a" stroke-width="0.85"/>
<polygon points="422.5,803.2 419.9,808.0 425.1,808.0" fill="#e4e4e4" stroke="#6a6a6a" stroke-width="0.85"/>
<polygon points="437.8,804.4 435.2,809.2 440.4,809.2" fill="#e4e4e4" stroke="#6a6a6a" stroke-width="0.85"/>
<polygon points="437.2,790.5 434.6,795.3 439.8,795.3" fill="#e4e4e4" stroke="#6a6a6a" stroke-width="0.85"/>
<polygon points="446.6,764.9 444.0,769.7 449.2,769.7" fill="#e4e4e4" stroke="#6a6a6a" stroke-width="0.85"/>
<polygon points="449.0,777.9 446.4,782.7 451.6,782.7" fill="#e4e4e4" stroke="#6a6a6a" stroke-width="0.85"/>
<polygon points="503.2,751.2 500.6,756.0 505.8,756.0" fill="#e4e4e4" stroke="#6a6a6a" stroke-width="0.85"/>
<polygon points="509.8,755.6 507.2,760.4 512.5,760.4" fill="#e4e4e4" stroke="#6a6a6a" stroke-width="0.85"/>
<polygon points="510.4,759.9 507.8,764.7 513.0,764.7" fill="#e4e4e4" stroke="#6a6a6a" stroke-width="0.85"/>
<polygon points="516.0,746.0 513.4,750.8 518.6,750.8" fill="#e4e4e4" stroke="#6a6a6a" stroke-width="0.85"/>
<polygon points="505.9,766.5 503.2,771.3 508.5,771.3" fill="#e4e4e4" stroke="#6a6a6a" stroke-width="0.85"/>
<polygon points="500.8,773.7 498.2,778.5 503.4,778.5" fill="#e4e4e4" stroke="#6a6a6a" stroke-width="0.85"/>
<polygon points="516.0,770.1 513.4,774.9 518.6,774.9" fill="#e4e4e4" stroke="#6a6a6a" stroke-width="0.85"/>
<polygon points="506.8,785.1 504.2,789.9 509.4,789.9" fill="#e4e4e4" stroke="#6a6a6a" stroke-width="0.85"/>
<polygon points="505.0,799.6 502.4,804.4 507.6,804.4" fill="#e4e4e4" stroke="#6a6a6a" stroke-width="0.85"/>
<polygon points="508.0,799.0 505.4,803.8 510.6,803.8" fill="#e4e4e4" stroke="#6a6a6a" stroke-width="0.85"/>
<polygon points="501.6,803.2 499.0,808.0 504.2,808.0" fill="#e4e4e4" stroke="#6a6a6a" stroke-width="0.85"/>
<polygon points="519.2,796.5 516.6,801.3 521.9,801.3" fill="#e4e4e4" stroke="#6a6a6a" stroke-width="0.85"/>
<polygon points="508.3,669.3 505.7,674.1 510.9,674.1" fill="#e4e4e4" stroke="#6a6a6a" stroke-width="0.85"/>
<polygon points="515.2,679.5 512.6,684.3 517.9,684.3" fill="#e4e4e4" stroke="#6a6a6a" stroke-width="0.85"/>
<polygon points="504.7,685.5 502.1,690.3 507.3,690.3" fill="#e4e4e4" stroke="#6a6a6a" stroke-width="0.85"/>
<polygon points="511.0,687.9 508.4,692.7 513.6,692.7" fill="#e4e4e4" stroke="#6a6a6a" stroke-width="0.85"/>
<polygon points="507.6,695.1 505.0,699.9 510.2,699.9" fill="#e4e4e4" stroke="#6a6a6a" stroke-width="0.85"/>
<polygon points="509.2,716.2 506.6,721.0 511.8,721.0" fill="#e4e4e4" stroke="#6a6a6a" stroke-width="0.85"/>
<polygon points="505.0,730.0 502.4,734.8 507.6,734.8" fill="#e4e4e4" stroke="#6a6a6a" stroke-width="0.85"/>
<polygon points="519.2,737.8 516.6,742.6 521.9,742.6" fill="#e4e4e4" stroke="#6a6a6a" stroke-width="0.85"/>
<polygon points="523.1,653.5 520.5,658.3 525.8,658.3" fill="#e4e4e4" stroke="#6a6a6a" stroke-width="0.85"/>
<polygon points="582.5,643.8 579.9,648.6 585.1,648.6" fill="#e4e4e4" stroke="#6a6a6a" stroke-width="0.85"/>
<polygon points="583.8,654.6 581.1,659.4 586.4,659.4" fill="#e4e4e4" stroke="#6a6a6a" stroke-width="0.85"/>
<polygon points="522.9,653.6 520.2,658.4 525.5,658.4" fill="#e4e4e4" stroke="#6a6a6a" stroke-width="0.85"/>
<polygon points="584.0,654.4 581.4,659.2 586.6,659.2" fill="#e4e4e4" stroke="#6a6a6a" stroke-width="0.85"/>
<polygon points="576.6,659.1 574.0,663.9 579.2,663.9" fill="#e4e4e4" stroke="#6a6a6a" stroke-width="0.85"/>
<polygon points="523.3,666.8 520.6,671.6 525.9,671.6" fill="#e4e4e4" stroke="#6a6a6a" stroke-width="0.85"/>
<polygon points="536.1,668.1 533.5,672.9 538.8,672.9" fill="#e4e4e4" stroke="#6a6a6a" stroke-width="0.85"/>
<polygon points="558.5,667.4 555.9,672.2 561.1,672.2" fill="#e4e4e4" stroke="#6a6a6a" stroke-width="0.85"/>
<polygon points="559.1,674.5 556.5,679.3 561.8,679.3" fill="#e4e4e4" stroke="#6a6a6a" stroke-width="0.85"/>
<polygon points="574.8,670.0 572.1,674.8 577.4,674.8" fill="#e4e4e4" stroke="#6a6a6a" stroke-width="0.85"/>
<polygon points="579.9,677.7 577.2,682.5 582.5,682.5" fill="#e4e4e4" stroke="#6a6a6a" stroke-width="0.85"/>
<polygon points="588.5,679.0 585.9,683.8 591.1,683.8" fill="#e4e4e4" stroke="#6a6a6a" stroke-width="0.85"/>
<polygon points="516.0,679.6 513.4,684.4 518.6,684.4" fill="#e4e4e4" stroke="#6a6a6a" stroke-width="0.85"/>
<polygon points="539.5,679.6 536.9,684.4 542.1,684.4" fill="#e4e4e4" stroke="#6a6a6a" stroke-width="0.85"/>
<polygon points="530.3,687.9 527.6,692.7 532.9,692.7" fill="#e4e4e4" stroke="#6a6a6a" stroke-width="0.85"/>
<polygon points="534.8,689.2 532.1,694.0 537.4,694.0" fill="#e4e4e4" stroke="#6a6a6a" stroke-width="0.85"/>
<polygon points="544.4,687.3 541.8,692.1 547.0,692.1" fill="#e4e4e4" stroke="#6a6a6a" stroke-width="0.85"/>
<polygon points="553.3,684.1 550.6,688.9 555.9,688.9" fill="#e4e4e4" stroke="#6a6a6a" stroke-width="0.85"/>
<polygon points="559.1,689.2 556.5,694.0 561.8,694.0" fill="#e4e4e4" stroke="#6a6a6a" stroke-width="0.85"/>
<polygon points="562.3,687.9 559.6,692.7 564.9,692.7" fill="#e4e4e4" stroke="#6a6a6a" stroke-width="0.85"/>
<polygon points="566.1,684.1 563.5,688.9 568.8,688.9" fill="#e4e4e4" stroke="#6a6a6a" stroke-width="0.85"/>
<polygon points="523.3,694.0 520.6,698.8 525.9,698.8" fill="#e4e4e4" stroke="#6a6a6a" stroke-width="0.85"/>
<polygon points="534.2,693.7 531.6,698.5 536.9,698.5" fill="#e4e4e4" stroke="#6a6a6a" stroke-width="0.85"/>
<polygon points="539.3,696.8 536.6,701.6 541.9,701.6" fill="#e4e4e4" stroke="#6a6a6a" stroke-width="0.85"/>
<polygon points="575.1,694.3 572.5,699.1 577.8,699.1" fill="#e4e4e4" stroke="#6a6a6a" stroke-width="0.85"/>
<polygon points="557.2,702.0 554.6,706.8 559.9,706.8" fill="#e4e4e4" stroke="#6a6a6a" stroke-width="0.85"/>
<polygon points="561.7,705.2 559.1,710.0 564.4,710.0" fill="#e4e4e4" stroke="#6a6a6a" stroke-width="0.85"/>
<polygon points="571.2,708.1 568.6,712.9 573.9,712.9" fill="#e4e4e4" stroke="#6a6a6a" stroke-width="0.85"/>
<polygon points="566.8,710.3 564.1,715.1 569.4,715.1" fill="#e4e4e4" stroke="#6a6a6a" stroke-width="0.85"/>
<polygon points="578.3,709.6 575.6,714.4 580.9,714.4" fill="#e4e4e4" stroke="#6a6a6a" stroke-width="0.85"/>
<polygon points="573.8,712.8 571.1,717.6 576.4,717.6" fill="#e4e4e4" stroke="#6a6a6a" stroke-width="0.85"/>
<polygon points="585.0,707.1 582.4,711.9 587.6,711.9" fill="#e4e4e4" stroke="#6a6a6a" stroke-width="0.85"/>
<polygon points="522.0,710.3 519.4,715.1 524.6,715.1" fill="#e4e4e4" stroke="#6a6a6a" stroke-width="0.85"/>
<polygon points="536.7,711.5 534.1,716.3 539.4,716.3" fill="#e4e4e4" stroke="#6a6a6a" stroke-width="0.85"/>
<polygon points="553.1,715.4 550.5,720.2 555.8,720.2" fill="#e4e4e4" stroke="#6a6a6a" stroke-width="0.85"/>
<polygon points="565.5,717.9 562.9,722.7 568.1,722.7" fill="#e4e4e4" stroke="#6a6a6a" stroke-width="0.85"/>
<polygon points="525.5,720.1 522.9,724.9 528.1,724.9" fill="#e4e4e4" stroke="#6a6a6a" stroke-width="0.85"/>
<polygon points="536.1,719.9 533.5,724.7 538.8,724.7" fill="#e4e4e4" stroke="#6a6a6a" stroke-width="0.85"/>
<polygon points="580.2,719.9 577.6,724.7 582.9,724.7" fill="#e4e4e4" stroke="#6a6a6a" stroke-width="0.85"/>
<polygon points="550.8,728.2 548.1,733.0 553.4,733.0" fill="#e4e4e4" stroke="#6a6a6a" stroke-width="0.85"/>
<polygon points="564.8,727.5 562.1,732.3 567.4,732.3" fill="#e4e4e4" stroke="#6a6a6a" stroke-width="0.85"/>
<polygon points="575.7,732.0 573.1,736.8 578.4,736.8" fill="#e4e4e4" stroke="#6a6a6a" stroke-width="0.85"/>
<polygon points="555.6,734.9 553.0,739.7 558.2,739.7" fill="#e4e4e4" stroke="#6a6a6a" stroke-width="0.85"/>
<polygon points="560.4,736.5 557.8,741.3 563.0,741.3" fill="#e4e4e4" stroke="#6a6a6a" stroke-width="0.85"/>
<polygon points="520.4,736.5 517.8,741.3 523.0,741.3" fill="#e4e4e4" stroke="#6a6a6a" stroke-width="0.85"/>
<polygon points="530.1,739.7 527.5,744.5 532.8,744.5" fill="#e4e4e4" stroke="#6a6a6a" stroke-width="0.85"/>
<polygon points="585.3,735.8 582.6,740.6 587.9,740.6" fill="#e4e4e4" stroke="#6a6a6a" stroke-width="0.85"/>
<polygon points="589.8,735.8 587.1,740.6 592.4,740.6" fill="#e4e4e4" stroke="#6a6a6a" stroke-width="0.85"/>
<polygon points="555.9,738.4 553.2,743.2 558.5,743.2" fill="#e4e4e4" stroke="#6a6a6a" stroke-width="0.85"/>
<polygon points="520.4,737.1 517.8,741.9 523.0,741.9" fill="#e4e4e4" stroke="#6a6a6a" stroke-width="0.85"/>
<polygon points="519.9,741.2 517.2,746.0 522.5,746.0" fill="#e4e4e4" stroke="#6a6a6a" stroke-width="0.85"/>
<polygon points="530.1,740.7 527.5,745.5 532.8,745.5" fill="#e4e4e4" stroke="#6a6a6a" stroke-width="0.85"/>
<polygon points="516.5,746.3 513.9,751.1 519.1,751.1" fill="#e4e4e4" stroke="#6a6a6a" stroke-width="0.85"/>
<polygon points="523.3,749.9 520.6,754.7 525.9,754.7" fill="#e4e4e4" stroke="#6a6a6a" stroke-width="0.85"/>
<polygon points="537.4,751.8 534.8,756.6 540.0,756.6" fill="#e4e4e4" stroke="#6a6a6a" stroke-width="0.85"/>
<polygon points="540.6,751.8 538.0,756.6 543.2,756.6" fill="#e4e4e4" stroke="#6a6a6a" stroke-width="0.85"/>
<polygon points="555.6,735.2 553.0,740.0 558.2,740.0" fill="#e4e4e4" stroke="#6a6a6a" stroke-width="0.85"/>
<polygon points="557.2,737.8 554.6,742.6 559.9,742.6" fill="#e4e4e4" stroke="#6a6a6a" stroke-width="0.85"/>
<polygon points="561.0,737.4 558.4,742.2 563.6,742.2" fill="#e4e4e4" stroke="#6a6a6a" stroke-width="0.85"/>
<polygon points="563.3,741.2 560.6,746.0 565.9,746.0" fill="#e4e4e4" stroke="#6a6a6a" stroke-width="0.85"/>
<polygon points="570.6,739.7 568.0,744.5 573.2,744.5" fill="#e4e4e4" stroke="#6a6a6a" stroke-width="0.85"/>
<polygon points="584.7,736.1 582.1,740.9 587.4,740.9" fill="#e4e4e4" stroke="#6a6a6a" stroke-width="0.85"/>
<polygon points="589.8,736.1 587.1,740.9 592.4,740.9" fill="#e4e4e4" stroke="#6a6a6a" stroke-width="0.85"/>
<polygon points="577.6,751.2 575.0,756.0 580.2,756.0" fill="#e4e4e4" stroke="#6a6a6a" stroke-width="0.85"/>
<polygon points="571.2,762.7 568.6,767.5 573.9,767.5" fill="#e4e4e4" stroke="#6a6a6a" stroke-width="0.85"/>
<polygon points="516.3,770.1 513.6,774.9 518.9,774.9" fill="#e4e4e4" stroke="#6a6a6a" stroke-width="0.85"/>
<polygon points="520.8,771.0 518.1,775.8 523.4,775.8" fill="#e4e4e4" stroke="#6a6a6a" stroke-width="0.85"/>
<polygon points="527.8,769.3 525.1,774.1 530.4,774.1" fill="#e4e4e4" stroke="#6a6a6a" stroke-width="0.85"/>
<polygon points="531.4,769.7 528.8,774.5 534.0,774.5" fill="#e4e4e4" stroke="#6a6a6a" stroke-width="0.85"/>
<polygon points="531.6,773.2 529.0,778.0 534.2,778.0" fill="#e4e4e4" stroke="#6a6a6a" stroke-width="0.85"/>
<polygon points="542.5,770.1 539.9,774.9 545.1,774.9" fill="#e4e4e4" stroke="#6a6a6a" stroke-width="0.85"/>
<polygon points="545.7,771.0 543.1,775.8 548.4,775.8" fill="#e4e4e4" stroke="#6a6a6a" stroke-width="0.85"/>
<polygon points="551.4,774.2 548.8,779.0 554.0,779.0" fill="#e4e4e4" stroke="#6a6a6a" stroke-width="0.85"/>
<polygon points="555.9,771.9 553.2,776.7 558.5,776.7" fill="#e4e4e4" stroke="#6a6a6a" stroke-width="0.85"/>
<polygon points="565.1,771.9 562.5,776.7 567.8,776.7" fill="#e4e4e4" stroke="#6a6a6a" stroke-width="0.85"/>
<polygon points="585.9,769.7 583.2,774.5 588.5,774.5" fill="#e4e4e4" stroke="#6a6a6a" stroke-width="0.85"/>
<polygon points="587.2,771.9 584.6,776.7 589.9,776.7" fill="#e4e4e4" stroke="#6a6a6a" stroke-width="0.85"/>
<polygon points="542.9,781.8 540.2,786.6 545.5,786.6" fill="#e4e4e4" stroke="#6a6a6a" stroke-width="0.85"/>
<polygon points="546.3,780.3 543.6,785.1 548.9,785.1" fill="#e4e4e4" stroke="#6a6a6a" stroke-width="0.85"/>
<polygon points="555.6,779.3 553.0,784.1 558.2,784.1" fill="#e4e4e4" stroke="#6a6a6a" stroke-width="0.85"/>
<polygon points="555.9,783.1 553.2,787.9 558.5,787.9" fill="#e4e4e4" stroke="#6a6a6a" stroke-width="0.85"/>
<polygon points="566.8,780.8 564.1,785.6 569.4,785.6" fill="#e4e4e4" stroke="#6a6a6a" stroke-width="0.85"/>
<polygon points="573.2,781.6 570.6,786.4 575.9,786.4" fill="#e4e4e4" stroke="#6a6a6a" stroke-width="0.85"/>
<polygon points="522.4,788.9 519.8,793.7 525.0,793.7" fill="#e4e4e4" stroke="#6a6a6a" stroke-width="0.85"/>
<polygon points="527.1,790.2 524.5,795.0 529.8,795.0" fill="#e4e4e4" stroke="#6a6a6a" stroke-width="0.85"/>
<polygon points="519.5,796.5 516.9,801.3 522.1,801.3" fill="#e4e4e4" stroke="#6a6a6a" stroke-width="0.85"/>
<polygon points="525.9,799.7 523.2,804.5 528.5,804.5" fill="#e4e4e4" stroke="#6a6a6a" stroke-width="0.85"/>
<polygon points="533.5,800.4 530.9,805.2 536.1,805.2" fill="#e4e4e4" stroke="#6a6a6a" stroke-width="0.85"/>
<polygon points="551.4,794.0 548.8,798.8 554.0,798.8" fill="#e4e4e4" stroke="#6a6a6a" stroke-width="0.85"/>
<polygon points="553.3,797.2 550.6,802.0 555.9,802.0" fill="#e4e4e4" stroke="#6a6a6a" stroke-width="0.85"/>
<polygon points="563.6,797.2 561.0,802.0 566.2,802.0" fill="#e4e4e4" stroke="#6a6a6a" stroke-width="0.85"/>
<polygon points="573.2,793.6 570.6,798.4 575.9,798.4" fill="#e4e4e4" stroke="#6a6a6a" stroke-width="0.85"/>
<polygon points="570.6,799.7 568.0,804.5 573.2,804.5" fill="#e4e4e4" stroke="#6a6a6a" stroke-width="0.85"/>
<polygon points="578.9,799.7 576.2,804.5 581.5,804.5" fill="#e4e4e4" stroke="#6a6a6a" stroke-width="0.85"/>
<circle cx="261.0" cy="692.4" r="2.6" fill="#000"/>
<circle cx="254.1" cy="711.5" r="2.6" fill="#000"/>
<circle cx="258.4" cy="726.9" r="2.6" fill="#000"/>
<circle cx="258.7" cy="740.8" r="2.6" fill="#000"/>
<circle cx="276.5" cy="719.1" r="2.6" fill="#000"/>
<circle cx="277.3" cy="724.5" r="2.6" fill="#000"/>
<circle cx="282.5" cy="729.6" r="2.6" fill="#000"/>
<circle cx="287.8" cy="726.1" r="2.6" fill="#000"/>
<circle cx="275.8" cy="736.3" r="2.6" fill="#000"/>
<circle cx="283.7" cy="744.4" r="2.6" fill="#000"/>
<circle cx="276.4" cy="718.2" r="2.6" fill="#000"/>
<circle cx="258.4" cy="741.0" r="2.6" fill="#000"/>
<circle cx="254.1" cy="750.2" r="2.6" fill="#000"/>
<circle cx="261.1" cy="751.1" r="2.6" fill="#000"/>
<circle cx="283.3" cy="745.1" r="2.6" fill="#000"/>
<circle cx="274.1" cy="748.4" r="2.6" fill="#000"/>
<circle cx="275.8" cy="752.0" r="2.6" fill="#000"/>
<circle cx="297.2" cy="758.0" r="2.6" fill="#000"/>
<circle cx="297.2" cy="764.1" r="2.6" fill="#000"/>
<circle cx="297.2" cy="769.5" r="2.6" fill="#000"/>
<circle cx="297.2" cy="774.6" r="2.6" fill="#000"/>
<circle cx="273.7" cy="762.3" r="2.6" fill="#000"/>
<circle cx="282.5" cy="764.1" r="2.6" fill="#000"/>
<circle cx="288.5" cy="761.9" r="2.6" fill="#000"/>
<circle cx="282.7" cy="768.9" r="2.6" fill="#000"/>
<circle cx="259.3" cy="769.8" r="2.6" fill="#000"/>
<circle cx="262.9" cy="769.8" r="2.6" fill="#000"/>
<circle cx="273.1" cy="771.9" r="2.6" fill="#000"/>
<circle cx="272.5" cy="780.3" r="2.6" fill="#000"/>
<circle cx="256.0" cy="782.7" r="2.6" fill="#000"/>
<circle cx="261.1" cy="788.1" r="2.6" fill="#000"/>
<circle cx="291.2" cy="782.1" r="2.6" fill="#000"/>
<circle cx="284.2" cy="789.6" r="2.6" fill="#000"/>
<circle cx="293.0" cy="792.9" r="2.6" fill="#000"/>
<circle cx="286.4" cy="795.6" r="2.6" fill="#000"/>
<circle cx="288.8" cy="799.9" r="2.6" fill="#000"/>
<circle cx="250.5" cy="794.1" r="2.6" fill="#000"/>
<circle cx="254.5" cy="796.5" r="2.6" fill="#000"/>
<circle cx="258.7" cy="794.7" r="2.6" fill="#000"/>
<circle cx="262.9" cy="794.7" r="2.6" fill="#000"/>
<circle cx="261.7" cy="799.9" r="2.6" fill="#000"/>
<circle cx="250.5" cy="804.4" r="2.6" fill="#000"/>
<circle cx="255.1" cy="805.9" r="2.6" fill="#000"/>
<circle cx="259.3" cy="808.0" r="2.6" fill="#000"/>
<circle cx="272.5" cy="805.9" r="2.6" fill="#000"/>
<circle cx="278.2" cy="805.9" r="2.6" fill="#000"/>
<circle cx="288.1" cy="726.0" r="2.6" fill="#000"/>
<circle cx="283.5" cy="745.0" r="2.6" fill="#000"/>
<circle cx="288.1" cy="761.8" r="2.6" fill="#000"/>
<circle cx="283.8" cy="769.4" r="2.6" fill="#000"/>
<circle cx="282.7" cy="764.5" r="2.6" fill="#000"/>
<circle cx="333.3" cy="782.7" r="2.6" fill="#000"/>
<circle cx="332.5" cy="789.6" r="2.6" fill="#000"/>
<circle cx="341.3" cy="790.5" r="2.6" fill="#000"/>
<circle cx="331.7" cy="801.1" r="2.6" fill="#000"/>
<circle cx="354.9" cy="765.6" r="2.6" fill="#000"/>
<circle cx="354.9" cy="786.3" r="2.6" fill="#000"/>
<circle cx="356.6" cy="802.6" r="2.6" fill="#000"/>
<circle cx="350.6" cy="739.5" r="2.6" fill="#000"/>
<circle cx="401.7" cy="668.0" r="2.6" fill="#000"/>
<circle cx="400.5" cy="679.5" r="2.6" fill="#000"/>
<circle cx="406.5" cy="686.3" r="2.6" fill="#000"/>
<circle cx="399.9" cy="695.1" r="2.6" fill="#000"/>
<circle cx="400.8" cy="699.3" r="2.6" fill="#000"/>
<circle cx="418.5" cy="671.7" r="2.6" fill="#000"/>
<circle cx="417.9" cy="675.3" r="2.6" fill="#000"/>
<circle cx="417.9" cy="696.9" r="2.6" fill="#000"/>
<circle cx="419.7" cy="702.3" r="2.6" fill="#000"/>
<circle cx="405.9" cy="719.5" r="2.6" fill="#000"/>
<circle cx="407.7" cy="721.0" r="2.6" fill="#000"/>
<circle cx="405.9" cy="728.8" r="2.6" fill="#000"/>
<circle cx="407.1" cy="727.6" r="2.6" fill="#000"/>
<circle cx="406.5" cy="742.6" r="2.6" fill="#000"/>
<circle cx="416.1" cy="744.4" r="2.6" fill="#000"/>
<circle cx="418.9" cy="722.5" r="2.6" fill="#000"/>
<circle cx="431.8" cy="708.3" r="2.6" fill="#000"/>
<circle cx="436.9" cy="708.3" r="2.6" fill="#000"/>
<circle cx="437.2" cy="722.8" r="2.6" fill="#000"/>
<circle cx="440.8" cy="722.8" r="2.6" fill="#000"/>
<circle cx="436.9" cy="730.0" r="2.6" fill="#000"/>
<circle cx="416.1" cy="745.8" r="2.6" fill="#000"/>
<circle cx="399.9" cy="748.4" r="2.6" fill="#000"/>
<circle cx="402.1" cy="748.4" r="2.6" fill="#000"/>
<circle cx="428.8" cy="752.0" r="2.6" fill="#000"/>
<circle cx="429.0" cy="753.8" r="2.6" fill="#000"/>
<circle cx="441.0" cy="752.6" r="2.6" fill="#000"/>
<circle cx="405.0" cy="757.1" r="2.6" fill="#000"/>
<circle cx="417.0" cy="758.6" r="2.6" fill="#000"/>
<circle cx="438.6" cy="762.3" r="2.6" fill="#000"/>
<circle cx="396.5" cy="765.9" r="2.6" fill="#000"/>
<circle cx="405.0" cy="768.3" r="2.6" fill="#000"/>
<circle cx="420.3" cy="766.2" r="2.6" fill="#000"/>
<circle cx="406.9" cy="773.4" r="2.6" fill="#000"/>
<circle cx="407.7" cy="775.1" r="2.6" fill="#000"/>
<circle cx="419.7" cy="772.2" r="2.6" fill="#000"/>
<circle cx="435.0" cy="774.3" r="2.6" fill="#000"/>
<circle cx="439.6" cy="777.1" r="2.6" fill="#000"/>
<circle cx="411.9" cy="782.7" r="2.6" fill="#000"/>
<circle cx="411.9" cy="785.7" r="2.6" fill="#000"/>
<circle cx="411.9" cy="787.5" r="2.6" fill="#000"/>
<circle cx="420.3" cy="782.7" r="2.6" fill="#000"/>
<circle cx="394.5" cy="786.3" r="2.6" fill="#000"/>
<circle cx="405.0" cy="792.3" r="2.6" fill="#000"/>
<circle cx="418.9" cy="795.1" r="2.6" fill="#000"/>
<circle cx="439.6" cy="790.5" r="2.6" fill="#000"/>
<circle cx="440.2" cy="795.9" r="2.6" fill="#000"/>
<circle cx="397.2" cy="798.3" r="2.6" fill="#000"/>
<circle cx="412.9" cy="800.8" r="2.6" fill="#000"/>
<circle cx="412.9" cy="805.2" r="2.6" fill="#000"/>
<circle cx="430.0" cy="799.2" r="2.6" fill="#000"/>
<circle cx="433.3" cy="802.0" r="2.6" fill="#000"/>
<circle cx="439.6" cy="798.9" r="2.6" fill="#000"/>
<circle cx="439.8" cy="803.5" r="2.6" fill="#000"/>
<circle cx="505.6" cy="740.0" r="2.6" fill="#000"/>
<circle cx="506.8" cy="751.1" r="2.6" fill="#000"/>
<circle cx="511.0" cy="754.4" r="2.6" fill="#000"/>
<circle cx="495.3" cy="773.7" r="2.6" fill="#000"/>
<circle cx="496.5" cy="776.1" r="2.6" fill="#000"/>
<circle cx="506.8" cy="774.3" r="2.6" fill="#000"/>
<circle cx="506.8" cy="776.1" r="2.6" fill="#000"/>
<circle cx="506.8" cy="784.8" r="2.6" fill="#000"/>
<circle cx="511.0" cy="792.9" r="2.6" fill="#000"/>
<circle cx="497.5" cy="795.1" r="2.6" fill="#000"/>
<circle cx="494.7" cy="802.0" r="2.6" fill="#000"/>
<circle cx="496.5" cy="806.8" r="2.6" fill="#000"/>
<circle cx="512.8" cy="805.6" r="2.6" fill="#000"/>
<circle cx="502.3" cy="652.6" r="2.6" fill="#000"/>
<circle cx="501.6" cy="683.9" r="2.6" fill="#000"/>
<circle cx="501.6" cy="691.5" r="2.6" fill="#000"/>
<circle cx="500.4" cy="695.1" r="2.6" fill="#000"/>
<circle cx="500.8" cy="703.5" r="2.6" fill="#000"/>
<circle cx="500.8" cy="721.9" r="2.6" fill="#000"/>
<circle cx="511.9" cy="714.7" r="2.6" fill="#000"/>
<circle cx="514.0" cy="729.4" r="2.6" fill="#000"/>
<circle cx="506.4" cy="733.0" r="2.6" fill="#000"/>
<circle cx="505.9" cy="739.0" r="2.6" fill="#000"/>
<circle cx="501.3" cy="568.2" r="2.6" fill="#000"/>
<circle cx="526.6" cy="579.6" r="2.6" fill="#000"/>
<circle cx="549.0" cy="614.8" r="2.6" fill="#000"/>
<circle cx="572.1" cy="622.8" r="2.6" fill="#000"/>
<circle cx="588.3" cy="564.1" r="2.6" fill="#000"/>
<circle cx="584.3" cy="577.8" r="2.6" fill="#000"/>
<circle cx="583.2" cy="606.2" r="2.6" fill="#000"/>
<circle cx="590.5" cy="602.0" r="2.6" fill="#000"/>
<circle cx="502.6" cy="632.0" r="2.6" fill="#000"/>
<circle cx="526.6" cy="631.4" r="2.6" fill="#000"/>
<circle cx="558.0" cy="639.5" r="2.6" fill="#000"/>
<circle cx="591.0" cy="631.4" r="2.6" fill="#000"/>
<circle cx="589.2" cy="645.0" r="2.6" fill="#000"/>
<circle cx="502.0" cy="653.1" r="2.6" fill="#000"/>
<circle cx="534.2" cy="656.7" r="2.6" fill="#000"/>
<circle cx="548.6" cy="657.1" r="2.6" fill="#000"/>
<circle cx="551.6" cy="657.1" r="2.6" fill="#000"/>
<circle cx="572.1" cy="653.1" r="2.6" fill="#000"/>
<circle cx="525.7" cy="665.0" r="2.6" fill="#000"/>
<circle cx="534.2" cy="657.4" r="2.6" fill="#000"/>
<circle cx="572.3" cy="652.8" r="2.6" fill="#000"/>
<circle cx="525.5" cy="665.6" r="2.6" fill="#000"/>
<circle cx="524.6" cy="674.0" r="2.6" fill="#000"/>
<circle cx="548.0" cy="674.0" r="2.6" fill="#000"/>
<circle cx="551.8" cy="677.9" r="2.6" fill="#000"/>
<circle cx="558.5" cy="674.3" r="2.6" fill="#000"/>
<circle cx="585.0" cy="676.2" r="2.6" fill="#000"/>
<circle cx="527.1" cy="687.3" r="2.6" fill="#000"/>
<circle cx="535.2" cy="687.3" r="2.6" fill="#000"/>
<circle cx="549.5" cy="686.4" r="2.6" fill="#000"/>
<circle cx="551.4" cy="689.0" r="2.6" fill="#000"/>
<circle cx="571.2" cy="686.4" r="2.6" fill="#000"/>
<circle cx="573.2" cy="696.7" r="2.6" fill="#000"/>
<circle cx="581.5" cy="702.7" r="2.6" fill="#000"/>
<circle cx="587.2" cy="706.0" r="2.6" fill="#000"/>
<circle cx="589.8" cy="706.0" r="2.6" fill="#000"/>
<circle cx="550.5" cy="707.3" r="2.6" fill="#000"/>
<circle cx="552.7" cy="708.2" r="2.6" fill="#000"/>
<circle cx="538.6" cy="715.8" r="2.6" fill="#000"/>
<circle cx="528.4" cy="719.0" r="2.6" fill="#000"/>
<circle cx="582.7" cy="718.4" r="2.6" fill="#000"/>
<circle cx="586.6" cy="720.3" r="2.6" fill="#000"/>
<circle cx="585.9" cy="723.5" r="2.6" fill="#000"/>
<circle cx="552.7" cy="724.1" r="2.6" fill="#000"/>
<circle cx="550.5" cy="728.2" r="2.6" fill="#000"/>
<circle cx="561.0" cy="726.7" r="2.6" fill="#000"/>
<circle cx="560.4" cy="730.3" r="2.6" fill="#000"/>
<circle cx="559.1" cy="733.1" r="2.6" fill="#000"/>
<circle cx="530.1" cy="728.2" r="2.6" fill="#000"/>
<circle cx="525.5" cy="730.3" r="2.6" fill="#000"/>
<circle cx="515.0" cy="730.3" r="2.6" fill="#000"/>
<circle cx="585.0" cy="730.3" r="2.6" fill="#000"/>
<circle cx="571.2" cy="738.8" r="2.6" fill="#000"/>
<circle cx="581.5" cy="739.9" r="2.6" fill="#000"/>
<circle cx="571.2" cy="739.1" r="2.6" fill="#000"/>
<circle cx="581.5" cy="740.1" r="2.6" fill="#000"/>
<circle cx="526.5" cy="747.8" r="2.6" fill="#000"/>
<circle cx="533.5" cy="748.4" r="2.6" fill="#000"/>
<circle cx="540.3" cy="748.4" r="2.6" fill="#000"/>
<circle cx="549.8" cy="748.4" r="2.6" fill="#000"/>
<circle cx="559.1" cy="747.5" r="2.6" fill="#000"/>
<circle cx="527.1" cy="752.6" r="2.6" fill="#000"/>
<circle cx="531.0" cy="753.9" r="2.6" fill="#000"/>
<circle cx="550.8" cy="752.9" r="2.6" fill="#000"/>
<circle cx="560.0" cy="752.6" r="2.6" fill="#000"/>
<circle cx="578.7" cy="748.8" r="2.6" fill="#000"/>
<circle cx="587.6" cy="748.4" r="2.6" fill="#000"/>
<circle cx="572.3" cy="759.5" r="2.6" fill="#000"/>
<circle cx="578.3" cy="758.0" r="2.6" fill="#000"/>
<circle cx="580.8" cy="762.1" r="2.6" fill="#000"/>
<circle cx="588.5" cy="763.1" r="2.6" fill="#000"/>
<circle cx="531.0" cy="762.9" r="2.6" fill="#000"/>
<circle cx="550.5" cy="771.8" r="2.6" fill="#000"/>
<circle cx="539.3" cy="775.9" r="2.6" fill="#000"/>
<circle cx="579.9" cy="771.0" r="2.6" fill="#000"/>
<circle cx="580.2" cy="775.6" r="2.6" fill="#000"/>
<circle cx="582.1" cy="776.9" r="2.6" fill="#000"/>
<circle cx="549.5" cy="783.3" r="2.6" fill="#000"/>
<circle cx="578.9" cy="785.5" r="2.6" fill="#000"/>
<circle cx="581.5" cy="787.4" r="2.6" fill="#000"/>
<circle cx="578.9" cy="791.2" r="2.6" fill="#000"/>
<circle cx="588.5" cy="790.0" r="2.6" fill="#000"/>
<circle cx="530.3" cy="790.2" r="2.6" fill="#000"/>
<circle cx="532.6" cy="800.2" r="2.6" fill="#000"/>
<circle cx="548.9" cy="804.3" r="2.6" fill="#000"/>
<circle cx="557.4" cy="802.5" r="2.6" fill="#000"/>
<circle cx="562.0" cy="805.0" r="2.6" fill="#000"/>
<circle cx="211.5" cy="723.2" r="5.1" fill="#0000ff" stroke="#000028" stroke-width="1.1"/>
<circle cx="215.0" cy="716.9" r="5.1" fill="#0000ff" stroke="#000028" stroke-width="1.1"/>
<circle cx="230.4" cy="702.9" r="5.1" fill="#0000ff" stroke="#000028" stroke-width="1.1"/>
<circle cx="232.8" cy="715.0" r="5.1" fill="#0000ff" stroke="#000028" stroke-width="1.1"/>
<circle cx="233.2" cy="717.9" r="5.1" fill="#0000ff" stroke="#000028" stroke-width="1.1"/>
<circle cx="255.3" cy="716.7" r="5.1" fill="#0000ff" stroke="#000028" stroke-width="1.1"/>
<circle cx="308.5" cy="746.9" r="5.1" fill="#0000ff" stroke="#000028" stroke-width="1.1"/>
<circle cx="338.8" cy="683.5" r="5.1" fill="#0000ff" stroke="#000028" stroke-width="1.1"/>
<circle cx="356.7" cy="655.0" r="5.1" fill="#0000ff" stroke="#000028" stroke-width="1.1"/>
<circle cx="360.2" cy="696.0" r="5.1" fill="#0000ff" stroke="#000028" stroke-width="1.1"/>
<circle cx="360.2" cy="705.7" r="5.1" fill="#0000ff" stroke="#000028" stroke-width="1.1"/>
<circle cx="381.6" cy="691.9" r="5.1" fill="#0000ff" stroke="#000028" stroke-width="1.1"/>
<circle cx="459.8" cy="692.9" r="5.1" fill="#0000ff" stroke="#000028" stroke-width="1.1"/>
<circle cx="469.4" cy="634.4" r="5.1" fill="#0000ff" stroke="#000028" stroke-width="1.1"/>
<circle cx="545.0" cy="609.0" r="5.1" fill="#0000ff" stroke="#000028" stroke-width="1.1"/>
<circle cx="562.1" cy="604.9" r="5.1" fill="#0000ff" stroke="#000028" stroke-width="1.1"/>
<line x1="187.9" y1="603.5" x2="187.9" y2="764.5" stroke="#5a5a9e" stroke-width="1.3"/>
<line x1="183.3" y1="603.5" x2="192.5" y2="603.5" stroke="#5a5a9e" stroke-width="1.3"/>
<line x1="183.3" y1="657.3" x2="192.5" y2="657.3" stroke="#5a5a9e" stroke-width="1.3"/>
<line x1="183.3" y1="711.0" x2="192.5" y2="711.0" stroke="#5a5a9e" stroke-width="1.3"/>
<line x1="183.3" y1="764.5" x2="192.5" y2="764.5" stroke="#5a5a9e" stroke-width="1.3"/>
<text transform="translate(180.00,610.80) scale(0.9615,1)" font-size="14.14" text-anchor="end" fill="#1c1cdc">600</text>
<text transform="translate(180.00,660.40) scale(0.9615,1)" font-size="14.14" text-anchor="end" fill="#1c1cdc">400</text>
<text transform="translate(180.00,713.90) scale(0.9615,1)" font-size="14.14" text-anchor="end" fill="#1c1cdc">200</text>
<text transform="translate(180.00,765.80) scale(0.9615,1)" font-size="14.14" text-anchor="end" fill="#1c1cdc">0</text>
<text transform="translate(150.60,720.60) rotate(-90.00) scale(0.9709,1)" font-size="17.82" fill="#1c1cdc">CO<tspan font-size="12.6">2</tspan> flux (t/d)</text>
<rect x="93.3" y="535.3" width="300.9" height="36.2" fill="#fff" stroke="#ababab" stroke-width="1.1"/>
<circle cx="99.8" cy="544.4" r="3.0" fill="#000"/>
<polygon points="100.2,560.9 97.2,566.9 103.2,566.9" fill="#dcdcdc" stroke="#6a6a6a" stroke-width="0.85"/>
<text transform="translate(106.70,549.20) scale(0.9615,1)" font-size="13.52" fill="#231f20">radon residuals at OLB</text>
<text transform="translate(106.70,567.20) scale(0.9615,1)" font-size="13.52" fill="#231f20">radon residuals at MSA</text>
<path d="M251.5,549 L253.5,546.5 L254.5,548 L256.5,545 L258,546.5 L260,543 L261,544.5 L263.6,541.4" fill="none" stroke="#f96a12" stroke-width="1.2"/>
<circle cx="257.6" cy="561.1" r="5.3" fill="#0000ff" stroke="#000028" stroke-width="1.1"/>
<text transform="translate(270.00,549.20) scale(0.9615,1)" font-size="13.52" fill="#231f20">RSAM at CPIS</text>
<text transform="translate(270.00,567.20) scale(0.9615,1)" font-size="13.52" fill="#231f20">CO<tspan font-size="10.4">2</tspan> flux at Pisciarelli</text>
<g fill="none" stroke="#3a3a3a" stroke-width="1.5">
<path d="M85,0.45 H598.5 V810.8 H85 Z"/>
<path d="M85,240.3 H598.5 M85,486.3 H598.5" stroke-width="1.25" stroke="#2a2a2a"/>
<path d="M80,7.4 H85"/>
<path d="M80,60.9 H85"/>
<path d="M80,114.4 H85"/>
<path d="M80,167.9 H85"/>
<path d="M80,221.4 H85"/>
<path d="M80,255.3 H85"/>
<path d="M80,309.1 H85"/>
<path d="M80,362.9 H85"/>
<path d="M80,416.6 H85"/>
<path d="M80,470.4 H85"/>
<path d="M80,579.5 H85"/>
<path d="M80,671.0 H85"/>
<path d="M80,762.5 H85"/>
<path d="M598.5,35.4 H604.5"/>
<path d="M598.5,83.3 H604.5"/>
<path d="M598.5,131.2 H604.5"/>
<path d="M598.5,179.0 H604.5"/>
<path d="M598.5,226.8 H604.5"/>
<path d="M598.5,262.5 H604.5"/>
<path d="M598.5,306.2 H604.5"/>
<path d="M598.5,349.9 H604.5"/>
<path d="M598.5,393.6 H604.5"/>
<path d="M598.5,437.3 H604.5"/>
<path d="M598.5,481.0 H604.5"/>
<path d="M598.5,522.4 H604.5"/>
<path d="M598.5,594.3 H604.5"/>
<path d="M598.5,666.2 H604.5"/>
<path d="M598.5,738.1 H604.5"/>
<path d="M598.5,809.0 H604.5"/>
<path d="M85.3,810.8 V815.5"/>
<path d="M158.8,810.8 V815.5"/>
<path d="M232.3,810.8 V815.5"/>
<path d="M305.7,810.8 V815.5"/>
<path d="M379.2,810.8 V815.5"/>
<path d="M452.7,810.8 V815.5"/>
<path d="M526.2,810.8 V815.5"/>
</g>
<g fill="#231f20">
<text transform="translate(75.00,13.20) scale(0.9615,1)" font-size="13.62" text-anchor="end">5.E+04</text>
<text transform="translate(75.00,66.70) scale(0.9615,1)" font-size="13.62" text-anchor="end">4.E+04</text>
<text transform="translate(75.00,120.20) scale(0.9615,1)" font-size="13.62" text-anchor="end">3.E+04</text>
<text transform="translate(75.00,173.70) scale(0.9615,1)" font-size="13.62" text-anchor="end">2.E+04</text>
<text transform="translate(75.00,227.20) scale(0.9615,1)" font-size="13.62" text-anchor="end">1.E+04</text>
<text transform="translate(75.00,261.10) scale(0.9615,1)" font-size="13.62" text-anchor="end">5.E+04</text>
<text transform="translate(75.00,314.90) scale(0.9615,1)" font-size="13.62" text-anchor="end">4.E+04</text>
<text transform="translate(75.00,368.70) scale(0.9615,1)" font-size="13.62" text-anchor="end">3.E+04</text>
<text transform="translate(75.00,422.40) scale(0.9615,1)" font-size="13.62" text-anchor="end">2.E+04</text>
<text transform="translate(75.00,476.20) scale(0.9615,1)" font-size="13.62" text-anchor="end">1.E+04</text>
<text transform="translate(76.00,585.30) scale(0.9615,1)" font-size="13.62" text-anchor="end">3.E+03</text>
<text transform="translate(76.00,676.80) scale(0.9615,1)" font-size="13.62" text-anchor="end">2.E+03</text>
<text transform="translate(76.00,768.30) scale(0.9615,1)" font-size="13.62" text-anchor="end">1.E+03</text>
<text transform="translate(611.10,41.40) scale(0.9615,1)" font-size="13.62">50</text>
<text transform="translate(611.10,89.30) scale(0.9615,1)" font-size="13.62">40</text>
<text transform="translate(611.10,137.20) scale(0.9615,1)" font-size="13.62">30</text>
<text transform="translate(611.10,185.00) scale(0.9615,1)" font-size="13.62">20</text>
<text transform="translate(611.10,232.80) scale(0.9615,1)" font-size="13.62">10</text>
<text transform="translate(609.50,267.90) scale(0.9615,1)" font-size="13.62">300</text>
<text transform="translate(609.50,355.30) scale(0.9615,1)" font-size="13.62">200</text>
<text transform="translate(609.50,442.70) scale(0.9615,1)" font-size="13.62">100</text>
<text transform="translate(609.90,528.20) scale(0.9615,1)" font-size="13.62">8E-06</text>
<text transform="translate(609.90,600.10) scale(0.9615,1)" font-size="13.62">6E-06</text>
<text transform="translate(609.90,672.00) scale(0.9615,1)" font-size="13.62">4E-06</text>
<text transform="translate(609.90,743.90) scale(0.9615,1)" font-size="13.62">2E-06</text>
<text transform="translate(609.90,814.80) scale(0.9615,1)" font-size="13.62">0</text>
</g>
<g fill="#231f20">
<text transform="translate(126.24,829.00) scale(0.9615,1)" font-size="16.54" text-anchor="middle">2011</text>
<text transform="translate(199.72,829.00) scale(0.9615,1)" font-size="16.54" text-anchor="middle">2012</text>
<text transform="translate(273.20,829.00) scale(0.9615,1)" font-size="16.54" text-anchor="middle">2013</text>
<text transform="translate(346.68,829.00) scale(0.9615,1)" font-size="16.54" text-anchor="middle">2014</text>
<text transform="translate(420.16,829.00) scale(0.9615,1)" font-size="16.54" text-anchor="middle">2015</text>
<text transform="translate(493.64,829.00) scale(0.9615,1)" font-size="16.54" text-anchor="middle">2016</text>
<text transform="translate(567.12,829.00) scale(0.9615,1)" font-size="16.54" text-anchor="middle">2017</text>
</g>
<g fill="#231f20">
<text transform="translate(98.30,24.20) scale(0.9615,1)" font-size="19.55">a) Vertical displacment at RITE (cm)</text>
<text transform="translate(94.60,265.20) scale(0.9615,1)" font-size="19.55">b) Background seismicity (cumulative)</text>
<text transform="translate(91.80,512.90) scale(0.9615,1)" font-size="19.55">c) Radon residuals, RSAM and CO<tspan font-size="14.0">2</tspan> flux at Pisciarelli</text>
</g>
<g fill="#231f20">
<text transform="translate(448.50,82.50) rotate(-25.00) scale(0.9615,1)" font-size="18.20">OLB trend</text>
<text transform="translate(448.50,331.00) rotate(-24.50) scale(0.9615,1)" font-size="18.20">OLB trend</text>
<text transform="translate(396.00,188.50) rotate(-22.70) scale(0.9615,1)" font-size="18.20">MSA trend</text>
<text transform="translate(402.50,434.00) rotate(-22.70) scale(0.9615,1)" font-size="18.20">MSA trend</text>
</g>
<text transform="translate(18.00,502.60) rotate(-90.00) scale(0.9901,1)" font-size="20.91" fill="#231f20"><tspan font-size="11.2" dy="-9.5">222</tspan><tspan dy="9.5">Rn activity concentration (Bq/m</tspan><tspan font-size="11.2" dy="-9.5">3</tspan><tspan dy="9.5">)</tspan></text>
<text transform="translate(639.00,110.80) rotate(90.00) scale(0.9390,1)" font-size="18.64" fill="#231f20">cm</text>
<text transform="translate(641.30,290.50) rotate(90.00)" font-size="17.15" fill="#231f20">number of eathquakes</text>
<text transform="translate(652.30,618.00) rotate(90.00) scale(0.9390,1)" font-size="18.11" fill="#231f20">RSAM</text>
<text transform="translate(652.30,716.80) rotate(90.00) scale(0.9390,1)" font-size="18.64" text-anchor="end" fill="#231f20">(m/s)</text>
</svg>
</body></html>
